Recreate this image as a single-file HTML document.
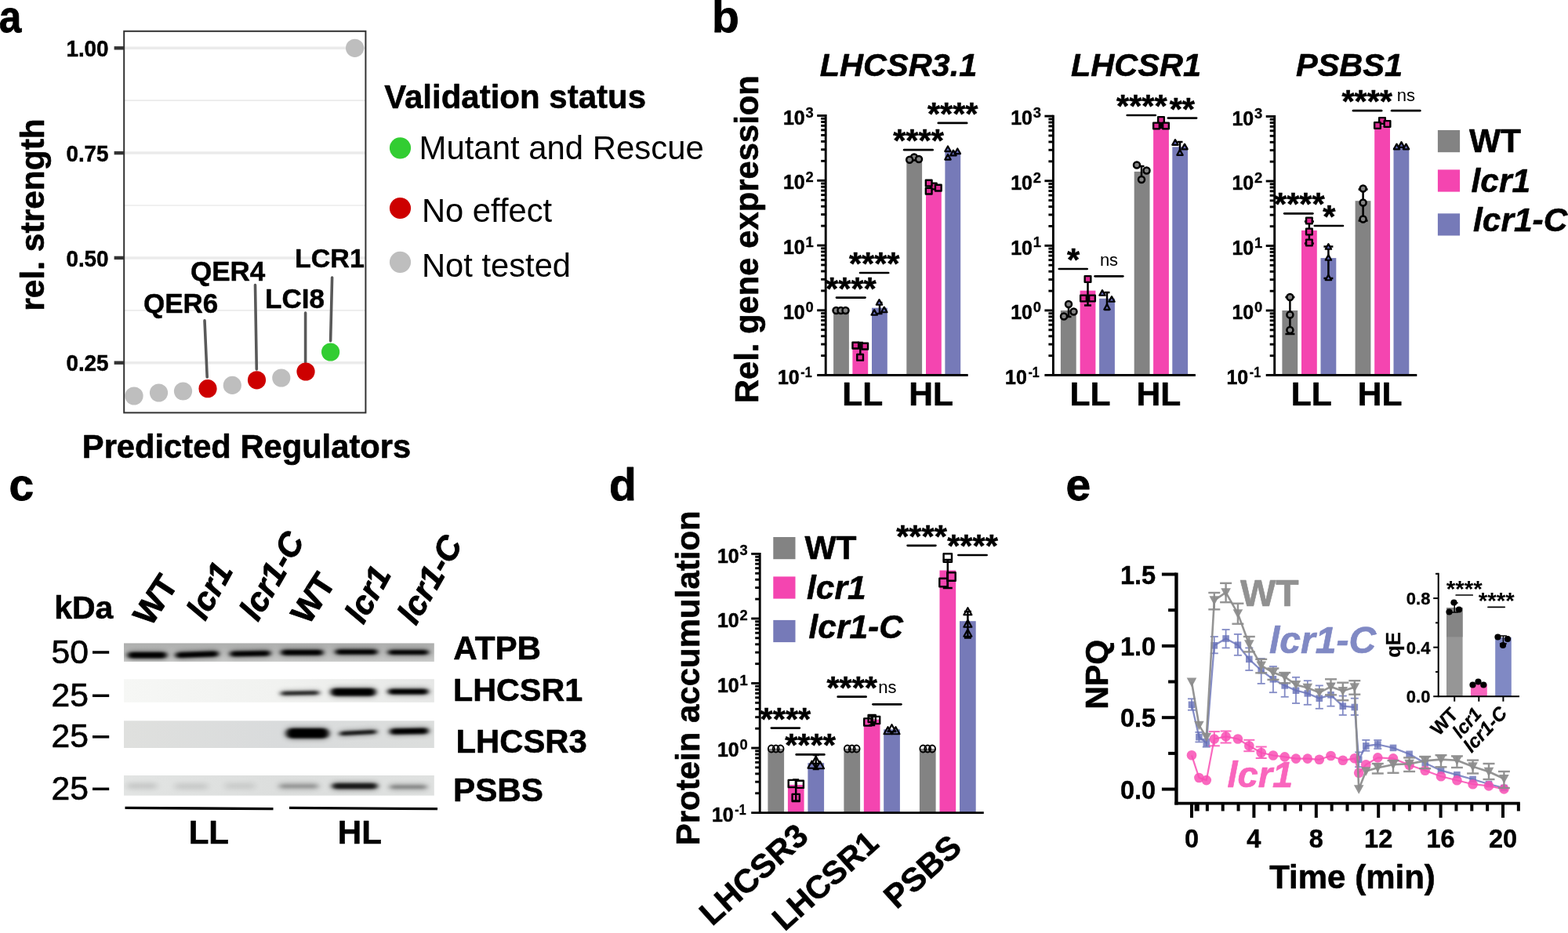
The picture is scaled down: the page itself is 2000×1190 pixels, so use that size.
<!DOCTYPE html>
<html lang="en">
<head>
<meta charset="utf-8">
<title>Figure</title>
<style>
html,body{margin:0;padding:0;background:#fff;}
body{width:2000px;height:1190px;overflow:hidden;}
svg{display:block;font-family:"Liberation Sans", sans-serif;}
</style>
</head>
<body>
<svg width="2000" height="1190" viewBox="0 0 2000 1190">
<defs><filter id="bl1" x="-30%" y="-150%" width="160%" height="400%"><feGaussianBlur stdDeviation="3.2 1.5"/></filter><filter id="bl2" x="-30%" y="-150%" width="160%" height="400%"><feGaussianBlur stdDeviation="2.4 1.8"/></filter><filter id="bl3" x="-30%" y="-200%" width="160%" height="500%"><feGaussianBlur stdDeviation="4 3"/></filter><linearGradient id="gA" x1="0" y1="0" x2="0" y2="1"><stop offset="0" stop-color="#adaead"/><stop offset="0.45" stop-color="#b8b9b8"/><stop offset="1" stop-color="#c8c9c8"/></linearGradient><linearGradient id="gB" x1="0" y1="0" x2="1" y2="0"><stop offset="0" stop-color="#f6f7f5"/><stop offset="0.5" stop-color="#f1f2f0"/><stop offset="1" stop-color="#e6e7e6"/></linearGradient><linearGradient id="gC" x1="0" y1="0" x2="1" y2="0"><stop offset="0" stop-color="#dfe0de"/><stop offset="0.5" stop-color="#d9dbdc"/><stop offset="1" stop-color="#dcdedd"/></linearGradient><linearGradient id="gD" x1="0" y1="0" x2="1" y2="0"><stop offset="0" stop-color="#e2e4e3"/><stop offset="0.5" stop-color="#dcdedd"/><stop offset="1" stop-color="#dfe1e0"/></linearGradient><clipPath id="cA"><rect x="158" y="820.4" width="395.8" height="23.5"/></clipPath><clipPath id="cB"><rect x="158" y="866.2" width="395.8" height="29.6"/></clipPath><clipPath id="cC"><rect x="158" y="919.3" width="395.8" height="34.7"/></clipPath><clipPath id="cD"><rect x="158" y="989" width="395.8" height="25.7"/></clipPath></defs>
<text x="-1.20" y="41.20" font-size="57" font-weight="bold" textLength="28.6" lengthAdjust="spacingAndGlyphs" stroke="#000" stroke-width="0.80" stroke-linejoin="round">a</text>
<line x1="158.20" y1="128.20" x2="466.40" y2="128.20" stroke="#ebebeb" stroke-width="1.7"/>
<line x1="158.20" y1="262.00" x2="466.40" y2="262.00" stroke="#ebebeb" stroke-width="1.7"/>
<line x1="158.20" y1="395.80" x2="466.40" y2="395.80" stroke="#ebebeb" stroke-width="1.7"/>
<line x1="158.20" y1="61.30" x2="466.40" y2="61.30" stroke="#ebebeb" stroke-width="3.5"/>
<line x1="145.60" y1="61.30" x2="158.20" y2="61.30" stroke="#333" stroke-width="4.4"/>
<line x1="158.20" y1="195.10" x2="466.40" y2="195.10" stroke="#ebebeb" stroke-width="3.5"/>
<line x1="145.60" y1="195.10" x2="158.20" y2="195.10" stroke="#333" stroke-width="4.4"/>
<line x1="158.20" y1="328.90" x2="466.40" y2="328.90" stroke="#ebebeb" stroke-width="3.5"/>
<line x1="145.60" y1="328.90" x2="158.20" y2="328.90" stroke="#333" stroke-width="4.4"/>
<line x1="158.20" y1="462.70" x2="466.40" y2="462.70" stroke="#ebebeb" stroke-width="3.5"/>
<line x1="145.60" y1="462.70" x2="158.20" y2="462.70" stroke="#333" stroke-width="4.4"/>
<text x="138.60" y="72.00" font-size="29.6" font-weight="bold" text-anchor="end" textLength="54.2" lengthAdjust="spacingAndGlyphs" stroke="#000" stroke-width="0.5">1.00</text>
<text x="138.60" y="205.80" font-size="29.6" font-weight="bold" text-anchor="end" textLength="54.2" lengthAdjust="spacingAndGlyphs" stroke="#000" stroke-width="0.5">0.75</text>
<text x="138.60" y="339.60" font-size="29.6" font-weight="bold" text-anchor="end" textLength="54.2" lengthAdjust="spacingAndGlyphs" stroke="#000" stroke-width="0.5">0.50</text>
<text x="138.60" y="473.40" font-size="29.6" font-weight="bold" text-anchor="end" textLength="54.2" lengthAdjust="spacingAndGlyphs" stroke="#000" stroke-width="0.5">0.25</text>
<text x="55.50" y="274.00" font-size="42.5" font-weight="bold" text-anchor="middle" transform="rotate(-90 55.50 274.00)" stroke="#000" stroke-width="0.59" stroke-linejoin="round">rel. strength</text>
<line x1="261.00" y1="408.80" x2="264.20" y2="481.00" stroke="#595959" stroke-width="3.6" stroke-linecap="round"/>
<line x1="325.50" y1="363.50" x2="327.30" y2="471.00" stroke="#595959" stroke-width="3.6" stroke-linecap="round"/>
<line x1="389.60" y1="399.00" x2="389.60" y2="462.00" stroke="#595959" stroke-width="3.6" stroke-linecap="round"/>
<line x1="423.60" y1="354.00" x2="421.60" y2="434.80" stroke="#595959" stroke-width="3.6" stroke-linecap="round"/>
<circle cx="171.00" cy="505.00" r="11.60" fill="#bebebe"/>
<circle cx="202.50" cy="501.00" r="11.60" fill="#bebebe"/>
<circle cx="233.50" cy="499.00" r="11.60" fill="#bebebe"/>
<circle cx="265.00" cy="495.70" r="11.60" fill="#cd0000"/>
<circle cx="296.30" cy="491.40" r="11.60" fill="#bebebe"/>
<circle cx="327.50" cy="484.80" r="11.60" fill="#cd0000"/>
<circle cx="358.80" cy="482.00" r="11.60" fill="#bebebe"/>
<circle cx="390.00" cy="474.00" r="11.60" fill="#cd0000"/>
<circle cx="421.60" cy="449.00" r="11.60" fill="#32cd32"/>
<circle cx="452.60" cy="61.30" r="11.60" fill="#bebebe"/>
<rect x="158.20" y="39.80" width="308.20" height="486.60" fill="none" stroke="#333" stroke-width="2.0"/>
<text x="183.00" y="399.20" font-size="35" font-weight="bold" stroke="#000" stroke-width="0.49" stroke-linejoin="round">QER6</text>
<text x="243.00" y="358.00" font-size="35" font-weight="bold" stroke="#000" stroke-width="0.49" stroke-linejoin="round">QER4</text>
<text x="338.00" y="392.80" font-size="35" font-weight="bold" stroke="#000" stroke-width="0.49" stroke-linejoin="round">LCI8</text>
<text x="376.00" y="340.80" font-size="34" font-weight="bold" stroke="#000" stroke-width="0.48" stroke-linejoin="round">LCR1</text>
<text x="314.50" y="583.90" font-size="41.7" font-weight="bold" text-anchor="middle" stroke="#000" stroke-width="0.58" stroke-linejoin="round">Predicted Regulators</text>
<text x="490.30" y="137.80" font-size="42" font-weight="bold" stroke="#000" stroke-width="0.59" stroke-linejoin="round">Validation status</text>
<circle cx="510.50" cy="188.80" r="13.60" fill="#32cd32"/>
<circle cx="510.50" cy="265.50" r="13.60" fill="#cd0000"/>
<circle cx="510.50" cy="334.30" r="13.60" fill="#bebebe"/>
<text x="534.50" y="202.60" font-size="41.9">Mutant and Rescue</text>
<text x="538.00" y="283.30" font-size="41.7">No effect</text>
<text x="538.00" y="352.80" font-size="41.7">Not tested</text>
<text x="908.00" y="40.50" font-size="57" font-weight="bold" stroke="#000" stroke-width="0.80" stroke-linejoin="round">b</text>
<text x="966.60" y="305.20" font-size="41.8" font-weight="bold" text-anchor="middle" transform="rotate(-90 966.60 305.20)" stroke="#000" stroke-width="0.59" stroke-linejoin="round">Rel. gene expression</text>
<text x="1146.00" y="97.20" font-size="41.5" font-weight="bold" font-style="italic" text-anchor="middle" stroke="#000" stroke-width="0.58" stroke-linejoin="round">LHCSR3.1</text>
<rect x="1063.10" y="396.00" width="19.80" height="82.55" fill="#838383"/>
<rect x="1087.40" y="441.30" width="19.80" height="37.25" fill="#f445b0"/>
<rect x="1112.00" y="392.70" width="19.80" height="85.85" fill="#767ab8"/>
<rect x="1156.30" y="203.50" width="19.80" height="275.05" fill="#838383"/>
<rect x="1181.00" y="240.40" width="19.80" height="238.15" fill="#f445b0"/>
<rect x="1205.40" y="193.70" width="19.80" height="284.85" fill="#767ab8"/>
<line x1="1053.20" y1="146.05" x2="1053.20" y2="480.00" stroke="#000" stroke-width="2.9"/>
<line x1="1042.20" y1="478.55" x2="1234.70" y2="478.55" stroke="#000" stroke-width="2.9"/>
<line x1="1042.20" y1="147.50" x2="1053.20" y2="147.50" stroke="#000" stroke-width="2.9"/>
<text x="1026.67" y="158.70" font-size="24.9" font-weight="bold" text-anchor="end" stroke="#000" stroke-width="0.5">10</text>
<text x="1027.47" y="149.50" font-size="18.4" font-weight="bold" stroke="#000" stroke-width="0.3">3</text>
<line x1="1047.20" y1="205.35" x2="1053.20" y2="205.35" stroke="#000" stroke-width="2.9"/>
<line x1="1047.20" y1="190.77" x2="1053.20" y2="190.77" stroke="#000" stroke-width="2.9"/>
<line x1="1047.20" y1="180.43" x2="1053.20" y2="180.43" stroke="#000" stroke-width="2.9"/>
<line x1="1047.20" y1="172.41" x2="1053.20" y2="172.41" stroke="#000" stroke-width="2.9"/>
<line x1="1047.20" y1="165.86" x2="1053.20" y2="165.86" stroke="#000" stroke-width="2.9"/>
<line x1="1047.20" y1="160.32" x2="1053.20" y2="160.32" stroke="#000" stroke-width="2.9"/>
<line x1="1047.20" y1="155.52" x2="1053.20" y2="155.52" stroke="#000" stroke-width="2.9"/>
<line x1="1047.20" y1="151.29" x2="1053.20" y2="151.29" stroke="#000" stroke-width="2.9"/>
<line x1="1042.20" y1="230.26" x2="1053.20" y2="230.26" stroke="#000" stroke-width="2.9"/>
<text x="1026.67" y="241.46" font-size="24.9" font-weight="bold" text-anchor="end" stroke="#000" stroke-width="0.5">10</text>
<text x="1027.47" y="232.26" font-size="18.4" font-weight="bold" stroke="#000" stroke-width="0.3">2</text>
<line x1="1047.20" y1="288.11" x2="1053.20" y2="288.11" stroke="#000" stroke-width="2.9"/>
<line x1="1047.20" y1="273.54" x2="1053.20" y2="273.54" stroke="#000" stroke-width="2.9"/>
<line x1="1047.20" y1="263.20" x2="1053.20" y2="263.20" stroke="#000" stroke-width="2.9"/>
<line x1="1047.20" y1="255.18" x2="1053.20" y2="255.18" stroke="#000" stroke-width="2.9"/>
<line x1="1047.20" y1="248.62" x2="1053.20" y2="248.62" stroke="#000" stroke-width="2.9"/>
<line x1="1047.20" y1="243.08" x2="1053.20" y2="243.08" stroke="#000" stroke-width="2.9"/>
<line x1="1047.20" y1="238.28" x2="1053.20" y2="238.28" stroke="#000" stroke-width="2.9"/>
<line x1="1047.20" y1="234.05" x2="1053.20" y2="234.05" stroke="#000" stroke-width="2.9"/>
<line x1="1042.20" y1="313.02" x2="1053.20" y2="313.02" stroke="#000" stroke-width="2.9"/>
<text x="1026.67" y="324.22" font-size="24.9" font-weight="bold" text-anchor="end" stroke="#000" stroke-width="0.5">10</text>
<text x="1027.47" y="315.02" font-size="18.4" font-weight="bold" stroke="#000" stroke-width="0.3">1</text>
<line x1="1047.20" y1="370.87" x2="1053.20" y2="370.87" stroke="#000" stroke-width="2.9"/>
<line x1="1047.20" y1="356.30" x2="1053.20" y2="356.30" stroke="#000" stroke-width="2.9"/>
<line x1="1047.20" y1="345.96" x2="1053.20" y2="345.96" stroke="#000" stroke-width="2.9"/>
<line x1="1047.20" y1="337.94" x2="1053.20" y2="337.94" stroke="#000" stroke-width="2.9"/>
<line x1="1047.20" y1="331.39" x2="1053.20" y2="331.39" stroke="#000" stroke-width="2.9"/>
<line x1="1047.20" y1="325.85" x2="1053.20" y2="325.85" stroke="#000" stroke-width="2.9"/>
<line x1="1047.20" y1="321.05" x2="1053.20" y2="321.05" stroke="#000" stroke-width="2.9"/>
<line x1="1047.20" y1="316.81" x2="1053.20" y2="316.81" stroke="#000" stroke-width="2.9"/>
<line x1="1042.20" y1="395.79" x2="1053.20" y2="395.79" stroke="#000" stroke-width="2.9"/>
<text x="1026.67" y="406.99" font-size="24.9" font-weight="bold" text-anchor="end" stroke="#000" stroke-width="0.5">10</text>
<text x="1027.47" y="397.79" font-size="18.4" font-weight="bold" stroke="#000" stroke-width="0.3">0</text>
<line x1="1047.20" y1="453.64" x2="1053.20" y2="453.64" stroke="#000" stroke-width="2.9"/>
<line x1="1047.20" y1="439.06" x2="1053.20" y2="439.06" stroke="#000" stroke-width="2.9"/>
<line x1="1047.20" y1="428.72" x2="1053.20" y2="428.72" stroke="#000" stroke-width="2.9"/>
<line x1="1047.20" y1="420.70" x2="1053.20" y2="420.70" stroke="#000" stroke-width="2.9"/>
<line x1="1047.20" y1="414.15" x2="1053.20" y2="414.15" stroke="#000" stroke-width="2.9"/>
<line x1="1047.20" y1="408.61" x2="1053.20" y2="408.61" stroke="#000" stroke-width="2.9"/>
<line x1="1047.20" y1="403.81" x2="1053.20" y2="403.81" stroke="#000" stroke-width="2.9"/>
<line x1="1047.20" y1="399.57" x2="1053.20" y2="399.57" stroke="#000" stroke-width="2.9"/>
<text x="1019.60" y="489.75" font-size="24.9" font-weight="bold" text-anchor="end" stroke="#000" stroke-width="0.5">10</text>
<text x="1021.30" y="480.55" font-size="18.4" font-weight="bold" stroke="#000" stroke-width="0.3" textLength="14.3" lengthAdjust="spacingAndGlyphs">-1</text>
<line x1="1097.30" y1="437.00" x2="1097.30" y2="455.00" stroke="#000" stroke-width="2.5"/>
<line x1="1093.80" y1="437.00" x2="1100.80" y2="437.00" stroke="#000" stroke-width="2.5"/>
<line x1="1093.80" y1="455.00" x2="1100.80" y2="455.00" stroke="#000" stroke-width="2.5"/>
<line x1="1122.00" y1="386.00" x2="1122.00" y2="400.00" stroke="#000" stroke-width="2.5"/>
<line x1="1118.50" y1="386.00" x2="1125.50" y2="386.00" stroke="#000" stroke-width="2.5"/>
<line x1="1118.50" y1="400.00" x2="1125.50" y2="400.00" stroke="#000" stroke-width="2.5"/>
<circle cx="1066.50" cy="396.00" r="4.00" fill="#838383" stroke="#000" stroke-width="2.5"/>
<circle cx="1072.50" cy="396.00" r="4.00" fill="#838383" stroke="#000" stroke-width="2.5"/>
<circle cx="1078.50" cy="396.00" r="4.00" fill="#838383" stroke="#000" stroke-width="2.5"/>
<rect x="1087.45" y="436.75" width="7.70" height="7.70" fill="#de2a94" stroke="#000" stroke-width="2.4" stroke-linejoin="round"/>
<rect x="1099.35" y="437.75" width="7.70" height="7.70" fill="#de2a94" stroke="#000" stroke-width="2.4" stroke-linejoin="round"/>
<rect x="1093.25" y="451.95" width="7.70" height="7.70" fill="#de2a94" stroke="#000" stroke-width="2.4" stroke-linejoin="round"/>
<polygon points="1121.50,382.12 1125.20,388.77 1117.80,388.77" fill="#6368b4" stroke="#000" stroke-width="2.2" stroke-linejoin="round"/>
<polygon points="1115.20,395.12 1118.90,401.77 1111.50,401.77" fill="#6368b4" stroke="#000" stroke-width="2.2" stroke-linejoin="round"/>
<polygon points="1127.80,391.62 1131.50,398.27 1124.10,398.27" fill="#6368b4" stroke="#000" stroke-width="2.2" stroke-linejoin="round"/>
<circle cx="1166.00" cy="200.50" r="4.00" fill="#838383" stroke="#000" stroke-width="2.5"/>
<circle cx="1160.20" cy="203.80" r="4.00" fill="#838383" stroke="#000" stroke-width="2.5"/>
<circle cx="1172.00" cy="203.00" r="4.00" fill="#838383" stroke="#000" stroke-width="2.5"/>
<rect x="1186.95" y="233.65" width="7.70" height="7.70" fill="#de2a94" stroke="#000" stroke-width="2.4" stroke-linejoin="round"/>
<rect x="1180.85" y="229.75" width="7.70" height="7.70" fill="#de2a94" stroke="#000" stroke-width="2.4" stroke-linejoin="round"/>
<rect x="1180.85" y="239.85" width="7.70" height="7.70" fill="#de2a94" stroke="#000" stroke-width="2.4" stroke-linejoin="round"/>
<rect x="1192.95" y="235.75" width="7.70" height="7.70" fill="#de2a94" stroke="#000" stroke-width="2.4" stroke-linejoin="round"/>
<polygon points="1216.00,191.62 1219.70,198.28 1212.30,198.28" fill="#6368b4" stroke="#000" stroke-width="2.2" stroke-linejoin="round"/>
<polygon points="1209.00,186.42 1212.70,193.08 1205.30,193.08" fill="#6368b4" stroke="#000" stroke-width="2.2" stroke-linejoin="round"/>
<polygon points="1221.30,189.42 1225.00,196.08 1217.60,196.08" fill="#6368b4" stroke="#000" stroke-width="2.2" stroke-linejoin="round"/>
<polygon points="1209.00,196.92 1212.70,203.58 1205.30,203.58" fill="#6368b4" stroke="#000" stroke-width="2.2" stroke-linejoin="round"/>
<text x="1100.20" y="517.00" font-size="42.5" font-weight="bold" text-anchor="middle" stroke="#000" stroke-width="0.59" stroke-linejoin="round">LL</text>
<text x="1187.70" y="517.00" font-size="42.5" font-weight="bold" text-anchor="middle" stroke="#000" stroke-width="0.59" stroke-linejoin="round">HL</text>
<line x1="1067.01" y1="379.60" x2="1103.49" y2="379.60" stroke="#000" stroke-width="2.7" stroke-linecap="round"/>
<text x="1085.40" y="381.50" font-size="41.5" font-weight="bold" text-anchor="middle" stroke="#000" stroke-width="0.58" stroke-linejoin="round">****</text>
<line x1="1097.01" y1="348.00" x2="1133.19" y2="348.00" stroke="#000" stroke-width="2.7" stroke-linecap="round"/>
<text x="1115.20" y="349.90" font-size="41.5" font-weight="bold" text-anchor="middle" stroke="#000" stroke-width="0.58" stroke-linejoin="round">****</text>
<line x1="1153.21" y1="191.20" x2="1189.59" y2="191.20" stroke="#000" stroke-width="2.7" stroke-linecap="round"/>
<text x="1171.50" y="193.10" font-size="41.5" font-weight="bold" text-anchor="middle" stroke="#000" stroke-width="0.58" stroke-linejoin="round">****</text>
<line x1="1196.81" y1="156.90" x2="1233.19" y2="156.90" stroke="#000" stroke-width="2.7" stroke-linecap="round"/>
<text x="1215.20" y="158.80" font-size="41.5" font-weight="bold" text-anchor="middle" stroke="#000" stroke-width="0.58" stroke-linejoin="round">****</text>
<text x="1449.00" y="97.20" font-size="41.5" font-weight="bold" font-style="italic" text-anchor="middle" stroke="#000" stroke-width="0.58" stroke-linejoin="round">LHCSR1</text>
<rect x="1352.90" y="396.00" width="19.80" height="82.55" fill="#838383"/>
<rect x="1377.60" y="370.70" width="19.80" height="107.85" fill="#f445b0"/>
<rect x="1402.10" y="380.80" width="19.80" height="97.75" fill="#767ab8"/>
<rect x="1446.70" y="218.90" width="19.80" height="259.65" fill="#838383"/>
<rect x="1471.10" y="160.90" width="19.80" height="317.65" fill="#f445b0"/>
<rect x="1495.30" y="187.40" width="19.80" height="291.15" fill="#767ab8"/>
<line x1="1343.40" y1="146.65" x2="1343.40" y2="480.00" stroke="#000" stroke-width="2.9"/>
<line x1="1332.40" y1="478.55" x2="1524.90" y2="478.55" stroke="#000" stroke-width="2.9"/>
<line x1="1332.40" y1="148.10" x2="1343.40" y2="148.10" stroke="#000" stroke-width="2.9"/>
<text x="1316.87" y="159.30" font-size="24.9" font-weight="bold" text-anchor="end" stroke="#000" stroke-width="0.5">10</text>
<text x="1317.67" y="150.10" font-size="18.4" font-weight="bold" stroke="#000" stroke-width="0.3">3</text>
<line x1="1337.40" y1="205.84" x2="1343.40" y2="205.84" stroke="#000" stroke-width="2.9"/>
<line x1="1337.40" y1="191.30" x2="1343.40" y2="191.30" stroke="#000" stroke-width="2.9"/>
<line x1="1337.40" y1="180.97" x2="1343.40" y2="180.97" stroke="#000" stroke-width="2.9"/>
<line x1="1337.40" y1="172.97" x2="1343.40" y2="172.97" stroke="#000" stroke-width="2.9"/>
<line x1="1337.40" y1="166.43" x2="1343.40" y2="166.43" stroke="#000" stroke-width="2.9"/>
<line x1="1337.40" y1="160.90" x2="1343.40" y2="160.90" stroke="#000" stroke-width="2.9"/>
<line x1="1337.40" y1="156.11" x2="1343.40" y2="156.11" stroke="#000" stroke-width="2.9"/>
<line x1="1337.40" y1="151.88" x2="1343.40" y2="151.88" stroke="#000" stroke-width="2.9"/>
<line x1="1332.40" y1="230.71" x2="1343.40" y2="230.71" stroke="#000" stroke-width="2.9"/>
<text x="1316.87" y="241.91" font-size="24.9" font-weight="bold" text-anchor="end" stroke="#000" stroke-width="0.5">10</text>
<text x="1317.67" y="232.71" font-size="18.4" font-weight="bold" stroke="#000" stroke-width="0.3">2</text>
<line x1="1337.40" y1="288.46" x2="1343.40" y2="288.46" stroke="#000" stroke-width="2.9"/>
<line x1="1337.40" y1="273.91" x2="1343.40" y2="273.91" stroke="#000" stroke-width="2.9"/>
<line x1="1337.40" y1="263.59" x2="1343.40" y2="263.59" stroke="#000" stroke-width="2.9"/>
<line x1="1337.40" y1="255.58" x2="1343.40" y2="255.58" stroke="#000" stroke-width="2.9"/>
<line x1="1337.40" y1="249.04" x2="1343.40" y2="249.04" stroke="#000" stroke-width="2.9"/>
<line x1="1337.40" y1="243.51" x2="1343.40" y2="243.51" stroke="#000" stroke-width="2.9"/>
<line x1="1337.40" y1="238.72" x2="1343.40" y2="238.72" stroke="#000" stroke-width="2.9"/>
<line x1="1337.40" y1="234.49" x2="1343.40" y2="234.49" stroke="#000" stroke-width="2.9"/>
<line x1="1332.40" y1="313.33" x2="1343.40" y2="313.33" stroke="#000" stroke-width="2.9"/>
<text x="1316.87" y="324.53" font-size="24.9" font-weight="bold" text-anchor="end" stroke="#000" stroke-width="0.5">10</text>
<text x="1317.67" y="315.33" font-size="18.4" font-weight="bold" stroke="#000" stroke-width="0.3">1</text>
<line x1="1337.40" y1="371.07" x2="1343.40" y2="371.07" stroke="#000" stroke-width="2.9"/>
<line x1="1337.40" y1="356.52" x2="1343.40" y2="356.52" stroke="#000" stroke-width="2.9"/>
<line x1="1337.40" y1="346.20" x2="1343.40" y2="346.20" stroke="#000" stroke-width="2.9"/>
<line x1="1337.40" y1="338.19" x2="1343.40" y2="338.19" stroke="#000" stroke-width="2.9"/>
<line x1="1337.40" y1="331.65" x2="1343.40" y2="331.65" stroke="#000" stroke-width="2.9"/>
<line x1="1337.40" y1="326.12" x2="1343.40" y2="326.12" stroke="#000" stroke-width="2.9"/>
<line x1="1337.40" y1="321.33" x2="1343.40" y2="321.33" stroke="#000" stroke-width="2.9"/>
<line x1="1337.40" y1="317.11" x2="1343.40" y2="317.11" stroke="#000" stroke-width="2.9"/>
<line x1="1332.40" y1="395.94" x2="1343.40" y2="395.94" stroke="#000" stroke-width="2.9"/>
<text x="1316.87" y="407.14" font-size="24.9" font-weight="bold" text-anchor="end" stroke="#000" stroke-width="0.5">10</text>
<text x="1317.67" y="397.94" font-size="18.4" font-weight="bold" stroke="#000" stroke-width="0.3">0</text>
<line x1="1337.40" y1="453.68" x2="1343.40" y2="453.68" stroke="#000" stroke-width="2.9"/>
<line x1="1337.40" y1="439.13" x2="1343.40" y2="439.13" stroke="#000" stroke-width="2.9"/>
<line x1="1337.40" y1="428.81" x2="1343.40" y2="428.81" stroke="#000" stroke-width="2.9"/>
<line x1="1337.40" y1="420.81" x2="1343.40" y2="420.81" stroke="#000" stroke-width="2.9"/>
<line x1="1337.40" y1="414.26" x2="1343.40" y2="414.26" stroke="#000" stroke-width="2.9"/>
<line x1="1337.40" y1="408.73" x2="1343.40" y2="408.73" stroke="#000" stroke-width="2.9"/>
<line x1="1337.40" y1="403.94" x2="1343.40" y2="403.94" stroke="#000" stroke-width="2.9"/>
<line x1="1337.40" y1="399.72" x2="1343.40" y2="399.72" stroke="#000" stroke-width="2.9"/>
<text x="1309.80" y="489.75" font-size="24.9" font-weight="bold" text-anchor="end" stroke="#000" stroke-width="0.5">10</text>
<text x="1311.50" y="480.55" font-size="18.4" font-weight="bold" stroke="#000" stroke-width="0.3" textLength="14.3" lengthAdjust="spacingAndGlyphs">-1</text>
<line x1="1363.00" y1="388.00" x2="1363.00" y2="404.00" stroke="#000" stroke-width="2.5"/>
<line x1="1359.50" y1="388.00" x2="1366.50" y2="388.00" stroke="#000" stroke-width="2.5"/>
<line x1="1359.50" y1="404.00" x2="1366.50" y2="404.00" stroke="#000" stroke-width="2.5"/>
<line x1="1387.50" y1="356.00" x2="1387.50" y2="389.50" stroke="#000" stroke-width="2.5"/>
<line x1="1383.00" y1="356.00" x2="1392.00" y2="356.00" stroke="#000" stroke-width="2.5"/>
<line x1="1383.00" y1="389.50" x2="1392.00" y2="389.50" stroke="#000" stroke-width="2.5"/>
<line x1="1412.00" y1="373.00" x2="1412.00" y2="395.00" stroke="#000" stroke-width="2.5"/>
<line x1="1408.50" y1="373.00" x2="1415.50" y2="373.00" stroke="#000" stroke-width="2.5"/>
<line x1="1408.50" y1="395.00" x2="1415.50" y2="395.00" stroke="#000" stroke-width="2.5"/>
<circle cx="1363.00" cy="388.00" r="4.00" fill="#838383" stroke="#000" stroke-width="2.5"/>
<circle cx="1357.00" cy="403.50" r="4.00" fill="#838383" stroke="#000" stroke-width="2.5"/>
<circle cx="1369.50" cy="397.50" r="4.00" fill="#838383" stroke="#000" stroke-width="2.5"/>
<rect x="1383.65" y="352.15" width="7.70" height="7.70" fill="#de2a94" stroke="#000" stroke-width="2.4" stroke-linejoin="round"/>
<rect x="1378.15" y="376.65" width="7.70" height="7.70" fill="#de2a94" stroke="#000" stroke-width="2.4" stroke-linejoin="round"/>
<rect x="1389.15" y="376.65" width="7.70" height="7.70" fill="#de2a94" stroke="#000" stroke-width="2.4" stroke-linejoin="round"/>
<polygon points="1406.00,370.12 1409.70,376.77 1402.30,376.77" fill="#6368b4" stroke="#000" stroke-width="2.2" stroke-linejoin="round"/>
<polygon points="1418.00,378.12 1421.70,384.77 1414.30,384.77" fill="#6368b4" stroke="#000" stroke-width="2.2" stroke-linejoin="round"/>
<polygon points="1412.00,388.12 1415.70,394.77 1408.30,394.77" fill="#6368b4" stroke="#000" stroke-width="2.2" stroke-linejoin="round"/>
<line x1="1456.00" y1="212.00" x2="1456.00" y2="228.00" stroke="#000" stroke-width="2.5"/>
<line x1="1452.50" y1="212.00" x2="1459.50" y2="212.00" stroke="#000" stroke-width="2.5"/>
<line x1="1452.50" y1="228.00" x2="1459.50" y2="228.00" stroke="#000" stroke-width="2.5"/>
<line x1="1481.00" y1="153.00" x2="1481.00" y2="163.00" stroke="#000" stroke-width="2.5"/>
<line x1="1477.50" y1="153.00" x2="1484.50" y2="153.00" stroke="#000" stroke-width="2.5"/>
<line x1="1477.50" y1="163.00" x2="1484.50" y2="163.00" stroke="#000" stroke-width="2.5"/>
<line x1="1505.00" y1="181.00" x2="1505.00" y2="197.00" stroke="#000" stroke-width="2.5"/>
<line x1="1501.50" y1="181.00" x2="1508.50" y2="181.00" stroke="#000" stroke-width="2.5"/>
<line x1="1501.50" y1="197.00" x2="1508.50" y2="197.00" stroke="#000" stroke-width="2.5"/>
<circle cx="1450.00" cy="210.50" r="4.00" fill="#838383" stroke="#000" stroke-width="2.5"/>
<circle cx="1462.50" cy="217.50" r="4.00" fill="#838383" stroke="#000" stroke-width="2.5"/>
<circle cx="1456.00" cy="229.00" r="4.00" fill="#838383" stroke="#000" stroke-width="2.5"/>
<rect x="1477.15" y="149.15" width="7.70" height="7.70" fill="#de2a94" stroke="#000" stroke-width="2.4" stroke-linejoin="round"/>
<rect x="1471.15" y="156.65" width="7.70" height="7.70" fill="#de2a94" stroke="#000" stroke-width="2.4" stroke-linejoin="round"/>
<rect x="1483.15" y="156.65" width="7.70" height="7.70" fill="#de2a94" stroke="#000" stroke-width="2.4" stroke-linejoin="round"/>
<polygon points="1499.00,178.12 1502.70,184.78 1495.30,184.78" fill="#6368b4" stroke="#000" stroke-width="2.2" stroke-linejoin="round"/>
<polygon points="1511.00,183.62 1514.70,190.28 1507.30,190.28" fill="#6368b4" stroke="#000" stroke-width="2.2" stroke-linejoin="round"/>
<polygon points="1505.00,191.12 1508.70,197.78 1501.30,197.78" fill="#6368b4" stroke="#000" stroke-width="2.2" stroke-linejoin="round"/>
<text x="1390.40" y="517.00" font-size="42.5" font-weight="bold" text-anchor="middle" stroke="#000" stroke-width="0.59" stroke-linejoin="round">LL</text>
<text x="1477.90" y="517.00" font-size="42.5" font-weight="bold" text-anchor="middle" stroke="#000" stroke-width="0.59" stroke-linejoin="round">HL</text>
<line x1="1350.81" y1="343.00" x2="1386.69" y2="343.00" stroke="#000" stroke-width="2.7" stroke-linecap="round"/>
<text x="1369.00" y="344.90" font-size="41.5" font-weight="bold" text-anchor="middle" stroke="#000" stroke-width="0.58" stroke-linejoin="round">*</text>
<line x1="1396.62" y1="352.30" x2="1432.29" y2="352.30" stroke="#000" stroke-width="2.7" stroke-linecap="round"/>
<text x="1414.50" y="339.20" font-size="22" text-anchor="middle">ns</text>
<line x1="1437.71" y1="147.00" x2="1473.79" y2="147.00" stroke="#000" stroke-width="2.7" stroke-linecap="round"/>
<text x="1456.30" y="148.90" font-size="41.5" font-weight="bold" text-anchor="middle" stroke="#000" stroke-width="0.58" stroke-linejoin="round">****</text>
<line x1="1489.91" y1="150.60" x2="1526.09" y2="150.60" stroke="#000" stroke-width="2.7" stroke-linecap="round"/>
<text x="1507.80" y="152.50" font-size="41.5" font-weight="bold" text-anchor="middle" stroke="#000" stroke-width="0.58" stroke-linejoin="round">**</text>
<text x="1721.00" y="97.20" font-size="41.5" font-weight="bold" font-style="italic" text-anchor="middle" stroke="#000" stroke-width="0.58" stroke-linejoin="round">PSBS1</text>
<rect x="1635.40" y="396.00" width="19.80" height="82.55" fill="#838383"/>
<rect x="1660.00" y="293.90" width="19.80" height="184.65" fill="#f445b0"/>
<rect x="1684.50" y="329.10" width="19.80" height="149.45" fill="#767ab8"/>
<rect x="1728.60" y="256.20" width="19.80" height="222.35" fill="#838383"/>
<rect x="1753.20" y="159.60" width="19.80" height="318.95" fill="#f445b0"/>
<rect x="1777.50" y="188.10" width="19.80" height="290.45" fill="#767ab8"/>
<line x1="1625.70" y1="147.05" x2="1625.70" y2="480.00" stroke="#000" stroke-width="2.9"/>
<line x1="1614.70" y1="478.55" x2="1807.30" y2="478.55" stroke="#000" stroke-width="2.9"/>
<line x1="1614.70" y1="148.50" x2="1625.70" y2="148.50" stroke="#000" stroke-width="2.9"/>
<text x="1599.17" y="159.70" font-size="24.9" font-weight="bold" text-anchor="end" stroke="#000" stroke-width="0.5">10</text>
<text x="1599.97" y="150.50" font-size="18.4" font-weight="bold" stroke="#000" stroke-width="0.3">3</text>
<line x1="1619.70" y1="206.17" x2="1625.70" y2="206.17" stroke="#000" stroke-width="2.9"/>
<line x1="1619.70" y1="191.64" x2="1625.70" y2="191.64" stroke="#000" stroke-width="2.9"/>
<line x1="1619.70" y1="181.34" x2="1625.70" y2="181.34" stroke="#000" stroke-width="2.9"/>
<line x1="1619.70" y1="173.34" x2="1625.70" y2="173.34" stroke="#000" stroke-width="2.9"/>
<line x1="1619.70" y1="166.81" x2="1625.70" y2="166.81" stroke="#000" stroke-width="2.9"/>
<line x1="1619.70" y1="161.28" x2="1625.70" y2="161.28" stroke="#000" stroke-width="2.9"/>
<line x1="1619.70" y1="156.50" x2="1625.70" y2="156.50" stroke="#000" stroke-width="2.9"/>
<line x1="1619.70" y1="152.28" x2="1625.70" y2="152.28" stroke="#000" stroke-width="2.9"/>
<line x1="1614.70" y1="231.01" x2="1625.70" y2="231.01" stroke="#000" stroke-width="2.9"/>
<text x="1599.17" y="242.21" font-size="24.9" font-weight="bold" text-anchor="end" stroke="#000" stroke-width="0.5">10</text>
<text x="1599.97" y="233.01" font-size="18.4" font-weight="bold" stroke="#000" stroke-width="0.3">2</text>
<line x1="1619.70" y1="288.69" x2="1625.70" y2="288.69" stroke="#000" stroke-width="2.9"/>
<line x1="1619.70" y1="274.16" x2="1625.70" y2="274.16" stroke="#000" stroke-width="2.9"/>
<line x1="1619.70" y1="263.85" x2="1625.70" y2="263.85" stroke="#000" stroke-width="2.9"/>
<line x1="1619.70" y1="255.85" x2="1625.70" y2="255.85" stroke="#000" stroke-width="2.9"/>
<line x1="1619.70" y1="249.32" x2="1625.70" y2="249.32" stroke="#000" stroke-width="2.9"/>
<line x1="1619.70" y1="243.79" x2="1625.70" y2="243.79" stroke="#000" stroke-width="2.9"/>
<line x1="1619.70" y1="239.01" x2="1625.70" y2="239.01" stroke="#000" stroke-width="2.9"/>
<line x1="1619.70" y1="234.79" x2="1625.70" y2="234.79" stroke="#000" stroke-width="2.9"/>
<line x1="1614.70" y1="313.52" x2="1625.70" y2="313.52" stroke="#000" stroke-width="2.9"/>
<text x="1599.17" y="324.72" font-size="24.9" font-weight="bold" text-anchor="end" stroke="#000" stroke-width="0.5">10</text>
<text x="1599.97" y="315.52" font-size="18.4" font-weight="bold" stroke="#000" stroke-width="0.3">1</text>
<line x1="1619.70" y1="371.20" x2="1625.70" y2="371.20" stroke="#000" stroke-width="2.9"/>
<line x1="1619.70" y1="356.67" x2="1625.70" y2="356.67" stroke="#000" stroke-width="2.9"/>
<line x1="1619.70" y1="346.36" x2="1625.70" y2="346.36" stroke="#000" stroke-width="2.9"/>
<line x1="1619.70" y1="338.36" x2="1625.70" y2="338.36" stroke="#000" stroke-width="2.9"/>
<line x1="1619.70" y1="331.83" x2="1625.70" y2="331.83" stroke="#000" stroke-width="2.9"/>
<line x1="1619.70" y1="326.31" x2="1625.70" y2="326.31" stroke="#000" stroke-width="2.9"/>
<line x1="1619.70" y1="321.52" x2="1625.70" y2="321.52" stroke="#000" stroke-width="2.9"/>
<line x1="1619.70" y1="317.30" x2="1625.70" y2="317.30" stroke="#000" stroke-width="2.9"/>
<line x1="1614.70" y1="396.04" x2="1625.70" y2="396.04" stroke="#000" stroke-width="2.9"/>
<text x="1599.17" y="407.24" font-size="24.9" font-weight="bold" text-anchor="end" stroke="#000" stroke-width="0.5">10</text>
<text x="1599.97" y="398.04" font-size="18.4" font-weight="bold" stroke="#000" stroke-width="0.3">0</text>
<line x1="1619.70" y1="453.71" x2="1625.70" y2="453.71" stroke="#000" stroke-width="2.9"/>
<line x1="1619.70" y1="439.18" x2="1625.70" y2="439.18" stroke="#000" stroke-width="2.9"/>
<line x1="1619.70" y1="428.87" x2="1625.70" y2="428.87" stroke="#000" stroke-width="2.9"/>
<line x1="1619.70" y1="420.88" x2="1625.70" y2="420.88" stroke="#000" stroke-width="2.9"/>
<line x1="1619.70" y1="414.34" x2="1625.70" y2="414.34" stroke="#000" stroke-width="2.9"/>
<line x1="1619.70" y1="408.82" x2="1625.70" y2="408.82" stroke="#000" stroke-width="2.9"/>
<line x1="1619.70" y1="404.03" x2="1625.70" y2="404.03" stroke="#000" stroke-width="2.9"/>
<line x1="1619.70" y1="399.81" x2="1625.70" y2="399.81" stroke="#000" stroke-width="2.9"/>
<text x="1592.10" y="489.75" font-size="24.9" font-weight="bold" text-anchor="end" stroke="#000" stroke-width="0.5">10</text>
<text x="1593.80" y="480.55" font-size="18.4" font-weight="bold" stroke="#000" stroke-width="0.3" textLength="14.3" lengthAdjust="spacingAndGlyphs">-1</text>
<line x1="1645.40" y1="379.00" x2="1645.40" y2="426.00" stroke="#000" stroke-width="2.5"/>
<line x1="1639.40" y1="379.00" x2="1651.40" y2="379.00" stroke="#000" stroke-width="2.5"/>
<line x1="1639.40" y1="426.00" x2="1651.40" y2="426.00" stroke="#000" stroke-width="2.5"/>
<line x1="1669.90" y1="282.50" x2="1669.90" y2="310.50" stroke="#000" stroke-width="2.5"/>
<line x1="1663.90" y1="282.50" x2="1675.90" y2="282.50" stroke="#000" stroke-width="2.5"/>
<line x1="1663.90" y1="310.50" x2="1675.90" y2="310.50" stroke="#000" stroke-width="2.5"/>
<line x1="1694.40" y1="314.50" x2="1694.40" y2="355.00" stroke="#000" stroke-width="2.5"/>
<line x1="1688.40" y1="314.50" x2="1700.40" y2="314.50" stroke="#000" stroke-width="2.5"/>
<line x1="1688.40" y1="355.00" x2="1700.40" y2="355.00" stroke="#000" stroke-width="2.5"/>
<circle cx="1645.40" cy="379.00" r="4.00" fill="#838383" stroke="#000" stroke-width="2.5"/>
<circle cx="1645.40" cy="401.50" r="4.00" fill="#838383" stroke="#000" stroke-width="2.5"/>
<circle cx="1645.40" cy="421.00" r="4.00" fill="#838383" stroke="#000" stroke-width="2.5"/>
<rect x="1666.05" y="277.65" width="7.70" height="7.70" fill="#de2a94" stroke="#000" stroke-width="2.4" stroke-linejoin="round"/>
<rect x="1666.05" y="291.65" width="7.70" height="7.70" fill="#de2a94" stroke="#000" stroke-width="2.4" stroke-linejoin="round"/>
<rect x="1666.05" y="305.65" width="7.70" height="7.70" fill="#de2a94" stroke="#000" stroke-width="2.4" stroke-linejoin="round"/>
<polygon points="1694.40,311.12 1698.10,317.77 1690.70,317.77" fill="#6368b4" stroke="#000" stroke-width="2.2" stroke-linejoin="round"/>
<polygon points="1694.40,325.12 1698.10,331.77 1690.70,331.77" fill="#6368b4" stroke="#000" stroke-width="2.2" stroke-linejoin="round"/>
<polygon points="1694.40,350.62 1698.10,357.27 1690.70,357.27" fill="#6368b4" stroke="#000" stroke-width="2.2" stroke-linejoin="round"/>
<line x1="1738.60" y1="241.50" x2="1738.60" y2="281.50" stroke="#000" stroke-width="2.5"/>
<line x1="1732.60" y1="241.50" x2="1744.60" y2="241.50" stroke="#000" stroke-width="2.5"/>
<line x1="1732.60" y1="281.50" x2="1744.60" y2="281.50" stroke="#000" stroke-width="2.5"/>
<circle cx="1738.60" cy="240.50" r="4.00" fill="#838383" stroke="#000" stroke-width="2.5"/>
<circle cx="1738.60" cy="258.50" r="4.00" fill="#838383" stroke="#000" stroke-width="2.5"/>
<circle cx="1738.60" cy="279.50" r="4.00" fill="#838383" stroke="#000" stroke-width="2.5"/>
<rect x="1759.15" y="150.15" width="7.70" height="7.70" fill="#de2a94" stroke="#000" stroke-width="2.4" stroke-linejoin="round"/>
<rect x="1753.15" y="156.15" width="7.70" height="7.70" fill="#de2a94" stroke="#000" stroke-width="2.4" stroke-linejoin="round"/>
<rect x="1765.65" y="154.15" width="7.70" height="7.70" fill="#de2a94" stroke="#000" stroke-width="2.4" stroke-linejoin="round"/>
<polygon points="1787.50,181.12 1791.20,187.78 1783.80,187.78" fill="#6368b4" stroke="#000" stroke-width="2.2" stroke-linejoin="round"/>
<polygon points="1781.50,183.62 1785.20,190.28 1777.80,190.28" fill="#6368b4" stroke="#000" stroke-width="2.2" stroke-linejoin="round"/>
<polygon points="1793.50,183.62 1797.20,190.28 1789.80,190.28" fill="#6368b4" stroke="#000" stroke-width="2.2" stroke-linejoin="round"/>
<text x="1672.70" y="517.00" font-size="42.5" font-weight="bold" text-anchor="middle" stroke="#000" stroke-width="0.59" stroke-linejoin="round">LL</text>
<text x="1760.20" y="517.00" font-size="42.5" font-weight="bold" text-anchor="middle" stroke="#000" stroke-width="0.59" stroke-linejoin="round">HL</text>
<line x1="1638.21" y1="272.30" x2="1674.38" y2="272.30" stroke="#000" stroke-width="2.7" stroke-linecap="round"/>
<text x="1657.30" y="274.20" font-size="41.5" font-weight="bold" text-anchor="middle" stroke="#000" stroke-width="0.58" stroke-linejoin="round">****</text>
<line x1="1676.81" y1="288.00" x2="1712.99" y2="288.00" stroke="#000" stroke-width="2.7" stroke-linecap="round"/>
<text x="1695.30" y="289.90" font-size="41.5" font-weight="bold" text-anchor="middle" stroke="#000" stroke-width="0.58" stroke-linejoin="round">*</text>
<line x1="1726.01" y1="141.20" x2="1762.09" y2="141.20" stroke="#000" stroke-width="2.7" stroke-linecap="round"/>
<text x="1743.70" y="143.10" font-size="41.5" font-weight="bold" text-anchor="middle" stroke="#000" stroke-width="0.58" stroke-linejoin="round">****</text>
<line x1="1775.12" y1="141.20" x2="1811.29" y2="141.20" stroke="#000" stroke-width="2.7" stroke-linecap="round"/>
<text x="1793.40" y="128.60" font-size="22" text-anchor="middle">ns</text>
<rect x="1833.90" y="166.00" width="28.20" height="28.20" fill="#838383"/>
<rect x="1833.90" y="216.40" width="28.20" height="28.20" fill="#f445b0"/>
<rect x="1833.90" y="272.30" width="28.20" height="28.20" fill="#767ab8"/>
<text x="1874.00" y="193.70" font-size="42.5" font-weight="bold" stroke="#000" stroke-width="0.59" stroke-linejoin="round">WT</text>
<text x="1876.50" y="245.30" font-size="42.5" font-weight="bold" font-style="italic" stroke="#000" stroke-width="0.59" stroke-linejoin="round">lcr1</text>
<text x="1879.00" y="294.50" font-size="42.5" font-weight="bold" font-style="italic" stroke="#000" stroke-width="0.59" stroke-linejoin="round">lcr1-C</text>
<text x="11.50" y="638.00" font-size="57" font-weight="bold" stroke="#000" stroke-width="0.80" stroke-linejoin="round">c</text>
<text x="69.20" y="789.40" font-size="41" font-weight="bold" stroke="#000" stroke-width="0.57" stroke-linejoin="round">kDa</text>
<text x="192.20" y="800.30" font-size="42.2" font-weight="bold" transform="rotate(-57 192.20 800.30)" stroke="#000" stroke-width="0.95" stroke-linejoin="round">WT</text>
<text x="261.80" y="793.00" font-size="42.0" font-weight="bold" font-style="italic" transform="rotate(-61 261.80 793.00)" stroke="#000" stroke-width="0.95" stroke-linejoin="round">lcr1</text>
<text x="329.10" y="794.00" font-size="42.6" font-weight="bold" font-style="italic" transform="rotate(-60 329.10 794.00)" stroke="#000" stroke-width="0.95" stroke-linejoin="round">lcr1-C</text>
<text x="393.40" y="798.20" font-size="42.2" font-weight="bold" transform="rotate(-57 393.40 798.20)" stroke="#000" stroke-width="0.95" stroke-linejoin="round">WT</text>
<text x="463.60" y="797.60" font-size="42.0" font-weight="bold" font-style="italic" transform="rotate(-61 463.60 797.60)" stroke="#000" stroke-width="0.95" stroke-linejoin="round">lcr1</text>
<text x="530.60" y="798.70" font-size="42.6" font-weight="bold" font-style="italic" transform="rotate(-60 530.60 798.70)" stroke="#000" stroke-width="0.95" stroke-linejoin="round">lcr1-C</text>
<text x="65.60" y="845.60" font-size="42.6" stroke="#000" stroke-width="0.7">50</text>
<line x1="118.00" y1="832.00" x2="139.20" y2="832.00" stroke="#000" stroke-width="3.5"/>
<text x="65.60" y="900.90" font-size="42.6" stroke="#000" stroke-width="0.7">25</text>
<line x1="118.00" y1="887.30" x2="139.20" y2="887.30" stroke="#000" stroke-width="3.5"/>
<text x="65.60" y="953.40" font-size="42.6" stroke="#000" stroke-width="0.7">25</text>
<line x1="118.00" y1="939.80" x2="139.20" y2="939.80" stroke="#000" stroke-width="3.5"/>
<text x="65.60" y="1019.90" font-size="42.6" stroke="#000" stroke-width="0.7">25</text>
<line x1="118.00" y1="1006.30" x2="139.20" y2="1006.30" stroke="#000" stroke-width="3.5"/>
<rect x="158.00" y="820.40" width="395.80" height="23.50" fill="url(#gA)"/>
<g clip-path="url(#cA)">
<rect x="162.8" y="831.0" width="50.0" height="9.2" rx="4.6" fill="#000" opacity="0.55" filter="url(#bl3)"/>
<rect x="163.8" y="832.0" width="48.0" height="7.2" rx="3.6" fill="#000" opacity="1" filter="url(#bl1)"/>
<rect x="223.8" y="830.5" width="55.0" height="8.6" rx="4.3" fill="#000" opacity="0.55" filter="url(#bl3)" transform="rotate(-2 251.3 834.8)"/>
<rect x="224.8" y="831.5" width="53.0" height="6.6" rx="3.3" fill="#000" opacity="1" filter="url(#bl1)" transform="rotate(-2 251.3 834.8)"/>
<rect x="293.1" y="829.5" width="52.0" height="8.2" rx="4.1" fill="#000" opacity="0.5" filter="url(#bl3)" transform="rotate(-1 319.1 833.6)"/>
<rect x="294.1" y="830.5" width="50.0" height="6.2" rx="3.1" fill="#000" opacity="1" filter="url(#bl1)" transform="rotate(-1 319.1 833.6)"/>
<rect x="358.3" y="828.1" width="54.0" height="8.4" rx="4.2" fill="#000" opacity="0.5" filter="url(#bl3)"/>
<rect x="359.3" y="829.1" width="52.0" height="6.4" rx="3.2" fill="#000" opacity="1" filter="url(#bl1)"/>
<rect x="427.6" y="827.6" width="54.0" height="7.8" rx="3.9" fill="#000" opacity="0.5" filter="url(#bl3)"/>
<rect x="428.6" y="828.6" width="52.0" height="5.8" rx="2.9" fill="#000" opacity="1" filter="url(#bl1)"/>
<rect x="494.8" y="828.2" width="52.0" height="7.6" rx="3.8" fill="#000" opacity="0.5" filter="url(#bl3)"/>
<rect x="495.8" y="829.2" width="50.0" height="5.6" rx="2.8" fill="#000" opacity="1" filter="url(#bl1)"/>
</g>
<rect x="158.00" y="866.20" width="395.80" height="29.60" fill="url(#gB)"/>
<g clip-path="url(#cB)">
<rect x="357.6" y="880.5" width="50.0" height="7.0" rx="3.5" fill="#000" opacity="0.3" filter="url(#bl3)" transform="rotate(-1 382.6 884.0)"/>
<rect x="358.6" y="881.5" width="48.0" height="5.0" rx="2.5" fill="#000" opacity="0.8" filter="url(#bl1)" transform="rotate(-1 382.6 884.0)"/>
<rect x="421.6" y="876.9" width="58.0" height="11.6" rx="5.8" fill="#000" opacity="0.5" filter="url(#bl3)"/>
<rect x="422.6" y="877.9" width="56.0" height="9.6" rx="4.8" fill="#000" opacity="1" filter="url(#bl1)"/>
<rect x="494.6" y="877.8" width="52.0" height="8.6" rx="4.3" fill="#000" opacity="0.45" filter="url(#bl3)"/>
<rect x="495.6" y="878.8" width="50.0" height="6.6" rx="3.3" fill="#000" opacity="1" filter="url(#bl1)"/>
</g>
<rect x="158.00" y="919.30" width="395.80" height="34.70" fill="url(#gC)"/>
<g clip-path="url(#cC)">
<rect x="364.7" y="928.1" width="55.0" height="14.4" rx="7.2" fill="#000" opacity="0.5" filter="url(#bl3)"/>
<rect x="365.7" y="929.1" width="53.0" height="12.4" rx="6.2" fill="#000" opacity="1" filter="url(#bl1)"/>
<rect x="432.7" y="930.9" width="48.0" height="7.2" rx="3.6" fill="#000" opacity="0.4" filter="url(#bl3)" transform="rotate(-3 456.7 934.5)"/>
<rect x="433.7" y="931.9" width="46.0" height="5.2" rx="2.6" fill="#000" opacity="0.85" filter="url(#bl1)" transform="rotate(-3 456.7 934.5)"/>
<rect x="496.8" y="927.9" width="50.0" height="9.4" rx="4.7" fill="#000" opacity="0.45" filter="url(#bl3)" transform="rotate(-1 521.8 932.6)"/>
<rect x="497.8" y="928.9" width="48.0" height="7.4" rx="3.7" fill="#000" opacity="1" filter="url(#bl1)" transform="rotate(-1 521.8 932.6)"/>
</g>
<rect x="158.00" y="989.00" width="395.80" height="25.70" fill="url(#gD)"/>
<g clip-path="url(#cD)">
<rect x="162.0" y="999.5" width="38.0" height="6.0" rx="3.0" fill="#000" opacity="0.16" filter="url(#bl3)"/>
<rect x="223.0" y="1000.0" width="42.0" height="6.0" rx="3.0" fill="#000" opacity="0.14" filter="url(#bl3)"/>
<rect x="287.0" y="999.5" width="38.0" height="6.0" rx="3.0" fill="#000" opacity="0.12" filter="url(#bl3)"/>
<rect x="356.0" y="999.5" width="50.0" height="6.5" rx="3.2" fill="#000" opacity="0.3" filter="url(#bl3)"/>
<rect x="357.0" y="1000.5" width="48.0" height="4.5" rx="2.2" fill="#000" opacity="0.12" filter="url(#bl1)"/>
<rect x="423.5" y="998.3" width="58.0" height="8.6" rx="4.3" fill="#000" opacity="0.55" filter="url(#bl3)"/>
<rect x="424.5" y="999.3" width="56.0" height="6.6" rx="3.3" fill="#000" opacity="0.8" filter="url(#bl1)"/>
<rect x="496.8" y="1000.4" width="48.0" height="6.5" rx="3.2" fill="#000" opacity="0.32" filter="url(#bl3)"/>
<rect x="497.8" y="1001.4" width="46.0" height="4.5" rx="2.2" fill="#000" opacity="0.2" filter="url(#bl1)"/>
</g>
<text x="578.30" y="840.80" font-size="42.2" font-weight="bold" stroke="#000" stroke-width="0.59" stroke-linejoin="round">ATPB</text>
<text x="578.00" y="893.60" font-size="41.3" font-weight="bold" stroke="#000" stroke-width="0.58" stroke-linejoin="round">LHCSR1</text>
<text x="581.60" y="959.60" font-size="41.8" font-weight="bold" stroke="#000" stroke-width="0.59" stroke-linejoin="round">LHCSR3</text>
<text x="578.00" y="1022.30" font-size="42.2" font-weight="bold" stroke="#000" stroke-width="0.59" stroke-linejoin="round">PSBS</text>
<line x1="159.50" y1="1030.40" x2="348.50" y2="1031.60" stroke="#000" stroke-width="3.3"/>
<line x1="369.00" y1="1030.40" x2="558.00" y2="1031.60" stroke="#000" stroke-width="3.3"/>
<text x="266.30" y="1076.00" font-size="42" font-weight="bold" text-anchor="middle" stroke="#000" stroke-width="0.59" stroke-linejoin="round">LL</text>
<text x="458.80" y="1076.00" font-size="42" font-weight="bold" text-anchor="middle" stroke="#000" stroke-width="0.59" stroke-linejoin="round">HL</text>
<text x="777.00" y="638.00" font-size="57" font-weight="bold" stroke="#000" stroke-width="0.80" stroke-linejoin="round">d</text>
<text x="892.30" y="864.80" font-size="42" font-weight="bold" text-anchor="middle" transform="rotate(-90 892.30 864.80)" stroke="#000" stroke-width="0.59" stroke-linejoin="round">Protein accumulation</text>
<rect x="979.40" y="955.00" width="20.70" height="81.60" fill="#838383"/>
<rect x="1004.90" y="1001.00" width="20.70" height="35.60" fill="#f445b0"/>
<rect x="1030.40" y="973.20" width="20.70" height="63.40" fill="#767ab8"/>
<rect x="1076.40" y="955.00" width="20.70" height="81.60" fill="#838383"/>
<rect x="1101.80" y="917.70" width="20.70" height="118.90" fill="#f445b0"/>
<rect x="1127.20" y="930.30" width="20.70" height="106.30" fill="#767ab8"/>
<rect x="1172.90" y="955.00" width="20.70" height="81.60" fill="#838383"/>
<rect x="1198.50" y="727.50" width="20.70" height="309.10" fill="#f445b0"/>
<rect x="1224.00" y="792.20" width="20.70" height="244.40" fill="#767ab8"/>
<line x1="969.20" y1="704.95" x2="969.20" y2="1038.05" stroke="#000" stroke-width="2.9"/>
<line x1="958.20" y1="1036.60" x2="1254.80" y2="1036.60" stroke="#000" stroke-width="2.9"/>
<line x1="958.20" y1="706.40" x2="969.20" y2="706.40" stroke="#000" stroke-width="2.9"/>
<text x="942.67" y="717.60" font-size="24.9" font-weight="bold" text-anchor="end" stroke="#000" stroke-width="0.5">10</text>
<text x="943.47" y="708.40" font-size="18.4" font-weight="bold" stroke="#000" stroke-width="0.3">3</text>
<line x1="963.20" y1="764.10" x2="969.20" y2="764.10" stroke="#000" stroke-width="2.9"/>
<line x1="963.20" y1="749.56" x2="969.20" y2="749.56" stroke="#000" stroke-width="2.9"/>
<line x1="963.20" y1="739.25" x2="969.20" y2="739.25" stroke="#000" stroke-width="2.9"/>
<line x1="963.20" y1="731.25" x2="969.20" y2="731.25" stroke="#000" stroke-width="2.9"/>
<line x1="963.20" y1="724.71" x2="969.20" y2="724.71" stroke="#000" stroke-width="2.9"/>
<line x1="963.20" y1="719.19" x2="969.20" y2="719.19" stroke="#000" stroke-width="2.9"/>
<line x1="963.20" y1="714.40" x2="969.20" y2="714.40" stroke="#000" stroke-width="2.9"/>
<line x1="963.20" y1="710.18" x2="969.20" y2="710.18" stroke="#000" stroke-width="2.9"/>
<line x1="958.20" y1="788.95" x2="969.20" y2="788.95" stroke="#000" stroke-width="2.9"/>
<text x="942.67" y="800.15" font-size="24.9" font-weight="bold" text-anchor="end" stroke="#000" stroke-width="0.5">10</text>
<text x="943.47" y="790.95" font-size="18.4" font-weight="bold" stroke="#000" stroke-width="0.3">2</text>
<line x1="963.20" y1="846.65" x2="969.20" y2="846.65" stroke="#000" stroke-width="2.9"/>
<line x1="963.20" y1="832.11" x2="969.20" y2="832.11" stroke="#000" stroke-width="2.9"/>
<line x1="963.20" y1="821.80" x2="969.20" y2="821.80" stroke="#000" stroke-width="2.9"/>
<line x1="963.20" y1="813.80" x2="969.20" y2="813.80" stroke="#000" stroke-width="2.9"/>
<line x1="963.20" y1="807.26" x2="969.20" y2="807.26" stroke="#000" stroke-width="2.9"/>
<line x1="963.20" y1="801.74" x2="969.20" y2="801.74" stroke="#000" stroke-width="2.9"/>
<line x1="963.20" y1="796.95" x2="969.20" y2="796.95" stroke="#000" stroke-width="2.9"/>
<line x1="963.20" y1="792.73" x2="969.20" y2="792.73" stroke="#000" stroke-width="2.9"/>
<line x1="958.20" y1="871.50" x2="969.20" y2="871.50" stroke="#000" stroke-width="2.9"/>
<text x="942.67" y="882.70" font-size="24.9" font-weight="bold" text-anchor="end" stroke="#000" stroke-width="0.5">10</text>
<text x="943.47" y="873.50" font-size="18.4" font-weight="bold" stroke="#000" stroke-width="0.3">1</text>
<line x1="963.20" y1="929.20" x2="969.20" y2="929.20" stroke="#000" stroke-width="2.9"/>
<line x1="963.20" y1="914.66" x2="969.20" y2="914.66" stroke="#000" stroke-width="2.9"/>
<line x1="963.20" y1="904.35" x2="969.20" y2="904.35" stroke="#000" stroke-width="2.9"/>
<line x1="963.20" y1="896.35" x2="969.20" y2="896.35" stroke="#000" stroke-width="2.9"/>
<line x1="963.20" y1="889.81" x2="969.20" y2="889.81" stroke="#000" stroke-width="2.9"/>
<line x1="963.20" y1="884.29" x2="969.20" y2="884.29" stroke="#000" stroke-width="2.9"/>
<line x1="963.20" y1="879.50" x2="969.20" y2="879.50" stroke="#000" stroke-width="2.9"/>
<line x1="963.20" y1="875.28" x2="969.20" y2="875.28" stroke="#000" stroke-width="2.9"/>
<line x1="958.20" y1="954.05" x2="969.20" y2="954.05" stroke="#000" stroke-width="2.9"/>
<text x="942.67" y="965.25" font-size="24.9" font-weight="bold" text-anchor="end" stroke="#000" stroke-width="0.5">10</text>
<text x="943.47" y="956.05" font-size="18.4" font-weight="bold" stroke="#000" stroke-width="0.3">0</text>
<line x1="963.20" y1="1011.75" x2="969.20" y2="1011.75" stroke="#000" stroke-width="2.9"/>
<line x1="963.20" y1="997.21" x2="969.20" y2="997.21" stroke="#000" stroke-width="2.9"/>
<line x1="963.20" y1="986.90" x2="969.20" y2="986.90" stroke="#000" stroke-width="2.9"/>
<line x1="963.20" y1="978.90" x2="969.20" y2="978.90" stroke="#000" stroke-width="2.9"/>
<line x1="963.20" y1="972.36" x2="969.20" y2="972.36" stroke="#000" stroke-width="2.9"/>
<line x1="963.20" y1="966.84" x2="969.20" y2="966.84" stroke="#000" stroke-width="2.9"/>
<line x1="963.20" y1="962.05" x2="969.20" y2="962.05" stroke="#000" stroke-width="2.9"/>
<line x1="963.20" y1="957.83" x2="969.20" y2="957.83" stroke="#000" stroke-width="2.9"/>
<text x="935.60" y="1047.80" font-size="24.9" font-weight="bold" text-anchor="end" stroke="#000" stroke-width="0.5">10</text>
<text x="937.30" y="1038.60" font-size="18.4" font-weight="bold" stroke="#000" stroke-width="0.3" textLength="14.3" lengthAdjust="spacingAndGlyphs">-1</text>
<ellipse cx="983.9" cy="955" rx="4.0" ry="4.5" fill="none" stroke="#000" stroke-width="1.9"/>
<ellipse cx="989.7" cy="955" rx="4.0" ry="4.5" fill="none" stroke="#000" stroke-width="1.9"/>
<ellipse cx="995.5" cy="955" rx="4.0" ry="4.5" fill="none" stroke="#000" stroke-width="1.9"/>
<ellipse cx="1080.9" cy="955" rx="4.0" ry="4.5" fill="none" stroke="#000" stroke-width="1.9"/>
<ellipse cx="1086.7" cy="955" rx="4.0" ry="4.5" fill="none" stroke="#000" stroke-width="1.9"/>
<ellipse cx="1092.5" cy="955" rx="4.0" ry="4.5" fill="none" stroke="#000" stroke-width="1.9"/>
<ellipse cx="1177.4" cy="955" rx="4.0" ry="4.5" fill="none" stroke="#000" stroke-width="1.9"/>
<ellipse cx="1183.2" cy="955" rx="4.0" ry="4.5" fill="none" stroke="#000" stroke-width="1.9"/>
<ellipse cx="1189.0" cy="955" rx="4.0" ry="4.5" fill="none" stroke="#000" stroke-width="1.9"/>
<line x1="1015.20" y1="994.50" x2="1015.20" y2="1021.50" stroke="#000" stroke-width="2.5"/>
<line x1="1011.20" y1="994.50" x2="1019.20" y2="994.50" stroke="#000" stroke-width="2.5"/>
<line x1="1011.20" y1="1021.50" x2="1019.20" y2="1021.50" stroke="#000" stroke-width="2.5"/>
<rect x="1005.70" y="994.90" width="9.20" height="9.20" fill="none" stroke="#000" stroke-width="2.4" stroke-linejoin="round"/>
<rect x="1015.70" y="995.70" width="9.20" height="9.20" fill="none" stroke="#000" stroke-width="2.4" stroke-linejoin="round"/>
<rect x="1010.60" y="1012.90" width="9.20" height="9.20" fill="none" stroke="#000" stroke-width="2.4" stroke-linejoin="round"/>
<line x1="1040.70" y1="963.00" x2="1040.70" y2="981.00" stroke="#000" stroke-width="2.5"/>
<line x1="1036.70" y1="963.00" x2="1044.70" y2="963.00" stroke="#000" stroke-width="2.5"/>
<line x1="1036.70" y1="981.00" x2="1044.70" y2="981.00" stroke="#000" stroke-width="2.5"/>
<polygon points="1040.70,964.75 1045.70,973.75 1035.70,973.75" fill="none" stroke="#000" stroke-width="2.2" stroke-linejoin="round"/>
<polygon points="1035.50,970.75 1040.50,979.75 1030.50,979.75" fill="none" stroke="#000" stroke-width="2.2" stroke-linejoin="round"/>
<polygon points="1046.00,971.25 1051.00,980.25 1041.00,980.25" fill="none" stroke="#000" stroke-width="2.2" stroke-linejoin="round"/>
<line x1="1112.20" y1="913.50" x2="1112.20" y2="925.00" stroke="#000" stroke-width="2.5"/>
<line x1="1108.20" y1="913.50" x2="1116.20" y2="913.50" stroke="#000" stroke-width="2.5"/>
<line x1="1108.20" y1="925.00" x2="1116.20" y2="925.00" stroke="#000" stroke-width="2.5"/>
<rect x="1102.20" y="916.40" width="9.20" height="9.20" fill="none" stroke="#000" stroke-width="2.4" stroke-linejoin="round"/>
<rect x="1107.60" y="911.90" width="9.20" height="9.20" fill="none" stroke="#000" stroke-width="2.4" stroke-linejoin="round"/>
<rect x="1113.00" y="913.90" width="9.20" height="9.20" fill="none" stroke="#000" stroke-width="2.4" stroke-linejoin="round"/>
<polygon points="1132.50,927.25 1137.50,936.25 1127.50,936.25" fill="none" stroke="#000" stroke-width="2.2" stroke-linejoin="round"/>
<polygon points="1137.50,924.25 1142.50,933.25 1132.50,933.25" fill="none" stroke="#000" stroke-width="2.2" stroke-linejoin="round"/>
<polygon points="1142.50,927.25 1147.50,936.25 1137.50,936.25" fill="none" stroke="#000" stroke-width="2.2" stroke-linejoin="round"/>
<line x1="1208.80" y1="714.00" x2="1208.80" y2="750.00" stroke="#000" stroke-width="2.5"/>
<line x1="1202.80" y1="714.00" x2="1214.80" y2="714.00" stroke="#000" stroke-width="2.5"/>
<line x1="1202.80" y1="750.00" x2="1214.80" y2="750.00" stroke="#000" stroke-width="2.5"/>
<rect x="1203.60" y="706.30" width="10.40" height="10.40" fill="none" stroke="#000" stroke-width="2.4" stroke-linejoin="round"/>
<rect x="1208.30" y="730.30" width="10.40" height="10.40" fill="none" stroke="#000" stroke-width="2.4" stroke-linejoin="round"/>
<rect x="1198.30" y="737.80" width="10.40" height="10.40" fill="none" stroke="#000" stroke-width="2.4" stroke-linejoin="round"/>
<line x1="1234.40" y1="780.00" x2="1234.40" y2="813.50" stroke="#000" stroke-width="2.5"/>
<line x1="1229.90" y1="780.00" x2="1238.90" y2="780.00" stroke="#000" stroke-width="2.5"/>
<line x1="1229.90" y1="813.50" x2="1238.90" y2="813.50" stroke="#000" stroke-width="2.5"/>
<polygon points="1234.40,775.25 1239.40,784.25 1229.40,784.25" fill="none" stroke="#000" stroke-width="2.2" stroke-linejoin="round"/>
<polygon points="1234.40,790.75 1239.40,799.75 1229.40,799.75" fill="none" stroke="#000" stroke-width="2.2" stroke-linejoin="round"/>
<polygon points="1234.40,802.75 1239.40,811.75 1229.40,811.75" fill="none" stroke="#000" stroke-width="2.2" stroke-linejoin="round"/>
<line x1="983.92" y1="928.60" x2="1019.78" y2="928.60" stroke="#000" stroke-width="2.7" stroke-linecap="round"/>
<text x="1001.90" y="930.50" font-size="41.5" font-weight="bold" text-anchor="middle" stroke="#000" stroke-width="0.58" stroke-linejoin="round">****</text>
<line x1="1015.72" y1="962.40" x2="1051.38" y2="962.40" stroke="#000" stroke-width="2.7" stroke-linecap="round"/>
<text x="1033.50" y="964.30" font-size="41.5" font-weight="bold" text-anchor="middle" stroke="#000" stroke-width="0.58" stroke-linejoin="round">****</text>
<line x1="1068.71" y1="888.70" x2="1104.59" y2="888.70" stroke="#000" stroke-width="2.7" stroke-linecap="round"/>
<text x="1086.70" y="890.60" font-size="41.5" font-weight="bold" text-anchor="middle" stroke="#000" stroke-width="0.58" stroke-linejoin="round">****</text>
<line x1="1113.51" y1="898.30" x2="1149.38" y2="898.30" stroke="#000" stroke-width="2.7" stroke-linecap="round"/>
<text x="1131.80" y="883.60" font-size="22" text-anchor="middle">ns</text>
<line x1="1157.62" y1="695.80" x2="1193.38" y2="695.80" stroke="#000" stroke-width="2.7" stroke-linecap="round"/>
<text x="1175.50" y="697.70" font-size="41.5" font-weight="bold" text-anchor="middle" stroke="#000" stroke-width="0.58" stroke-linejoin="round">****</text>
<line x1="1222.41" y1="708.00" x2="1258.59" y2="708.00" stroke="#000" stroke-width="2.7" stroke-linecap="round"/>
<text x="1240.50" y="709.90" font-size="41.5" font-weight="bold" text-anchor="middle" stroke="#000" stroke-width="0.58" stroke-linejoin="round">****</text>
<rect x="986.30" y="685.00" width="28.20" height="28.20" fill="#838383"/>
<rect x="986.30" y="735.40" width="28.20" height="28.20" fill="#f445b0"/>
<rect x="986.30" y="790.90" width="28.20" height="28.20" fill="#767ab8"/>
<text x="1026.50" y="712.70" font-size="42.5" font-weight="bold" stroke="#000" stroke-width="0.59" stroke-linejoin="round">WT</text>
<text x="1029.00" y="764.40" font-size="42.5" font-weight="bold" font-style="italic" stroke="#000" stroke-width="0.59" stroke-linejoin="round">lcr1</text>
<text x="1031.50" y="813.80" font-size="42.5" font-weight="bold" font-style="italic" stroke="#000" stroke-width="0.59" stroke-linejoin="round">lcr1-C</text>
<text x="908.30" y="1182.20" font-size="42.1" font-weight="bold" transform="rotate(-42 908.30 1182.20)" stroke="#000" stroke-width="0.59" stroke-linejoin="round">LHCSR3</text>
<text x="1000.70" y="1188.80" font-size="41.2" font-weight="bold" transform="rotate(-42 1000.70 1188.80)" stroke="#000" stroke-width="0.58" stroke-linejoin="round">LHCSR1</text>
<text x="1143.60" y="1160.70" font-size="42.2" font-weight="bold" transform="rotate(-42 1143.60 1160.70)" stroke="#000" stroke-width="0.59" stroke-linejoin="round">PSBS</text>
<text x="1359.50" y="638.00" font-size="57" font-weight="bold" stroke="#000" stroke-width="0.80" stroke-linejoin="round">e</text>
<g opacity="0.8">
<polyline points="1520.00,898.80 1529.40,940.10 1538.80,947.70 1548.80,823.30 1563.60,814.50 1578.90,822.70 1593.30,840.80 1608.70,855.00 1623.90,866.30 1638.70,874.40 1653.00,880.70 1667.80,884.40 1682.80,890.70 1697.50,886.30 1712.80,900.70 1727.80,902.00 1733.20,968.80 1742.30,951.40 1757.30,949.50 1777.00,953.90 1797.60,961.80 1817.70,973.30 1838.00,982.70 1858.40,988.30 1878.60,994.00 1899.00,1000.00 1918.40,1005.00" fill="none" stroke="#6670b8" stroke-width="2.3" stroke-linejoin="round"/>
</g>
<g opacity="0.8">
<line x1="1520.00" y1="891.30" x2="1520.00" y2="905.70" stroke="#6670b8" stroke-width="1.8"/>
<line x1="1515.00" y1="891.30" x2="1525.00" y2="891.30" stroke="#6670b8" stroke-width="1.8"/>
<line x1="1515.00" y1="905.70" x2="1525.00" y2="905.70" stroke="#6670b8" stroke-width="1.8"/>
<line x1="1529.40" y1="933.90" x2="1529.40" y2="946.40" stroke="#6670b8" stroke-width="1.8"/>
<line x1="1524.40" y1="933.90" x2="1534.40" y2="933.90" stroke="#6670b8" stroke-width="1.8"/>
<line x1="1524.40" y1="946.40" x2="1534.40" y2="946.40" stroke="#6670b8" stroke-width="1.8"/>
<line x1="1538.80" y1="942.70" x2="1538.80" y2="952.70" stroke="#6670b8" stroke-width="1.8"/>
<line x1="1533.80" y1="942.70" x2="1543.80" y2="942.70" stroke="#6670b8" stroke-width="1.8"/>
<line x1="1533.80" y1="952.70" x2="1543.80" y2="952.70" stroke="#6670b8" stroke-width="1.8"/>
<line x1="1548.80" y1="812.00" x2="1548.80" y2="833.30" stroke="#6670b8" stroke-width="1.8"/>
<line x1="1543.80" y1="812.00" x2="1553.80" y2="812.00" stroke="#6670b8" stroke-width="1.8"/>
<line x1="1543.80" y1="833.30" x2="1553.80" y2="833.30" stroke="#6670b8" stroke-width="1.8"/>
<line x1="1563.60" y1="803.00" x2="1563.60" y2="826.40" stroke="#6670b8" stroke-width="1.8"/>
<line x1="1558.60" y1="803.00" x2="1568.60" y2="803.00" stroke="#6670b8" stroke-width="1.8"/>
<line x1="1558.60" y1="826.40" x2="1568.60" y2="826.40" stroke="#6670b8" stroke-width="1.8"/>
<line x1="1578.90" y1="808.90" x2="1578.90" y2="835.80" stroke="#6670b8" stroke-width="1.8"/>
<line x1="1573.90" y1="808.90" x2="1583.90" y2="808.90" stroke="#6670b8" stroke-width="1.8"/>
<line x1="1573.90" y1="835.80" x2="1583.90" y2="835.80" stroke="#6670b8" stroke-width="1.8"/>
<line x1="1593.30" y1="826.40" x2="1593.30" y2="855.00" stroke="#6670b8" stroke-width="1.8"/>
<line x1="1588.30" y1="826.40" x2="1598.30" y2="826.40" stroke="#6670b8" stroke-width="1.8"/>
<line x1="1588.30" y1="855.00" x2="1598.30" y2="855.00" stroke="#6670b8" stroke-width="1.8"/>
<line x1="1608.70" y1="840.00" x2="1608.70" y2="871.90" stroke="#6670b8" stroke-width="1.8"/>
<line x1="1603.70" y1="840.00" x2="1613.70" y2="840.00" stroke="#6670b8" stroke-width="1.8"/>
<line x1="1603.70" y1="871.90" x2="1613.70" y2="871.90" stroke="#6670b8" stroke-width="1.8"/>
<line x1="1623.90" y1="850.00" x2="1623.90" y2="883.20" stroke="#6670b8" stroke-width="1.8"/>
<line x1="1618.90" y1="850.00" x2="1628.90" y2="850.00" stroke="#6670b8" stroke-width="1.8"/>
<line x1="1618.90" y1="883.20" x2="1628.90" y2="883.20" stroke="#6670b8" stroke-width="1.8"/>
<line x1="1638.70" y1="860.00" x2="1638.70" y2="888.80" stroke="#6670b8" stroke-width="1.8"/>
<line x1="1633.70" y1="860.00" x2="1643.70" y2="860.00" stroke="#6670b8" stroke-width="1.8"/>
<line x1="1633.70" y1="888.80" x2="1643.70" y2="888.80" stroke="#6670b8" stroke-width="1.8"/>
<line x1="1653.00" y1="863.80" x2="1653.00" y2="897.00" stroke="#6670b8" stroke-width="1.8"/>
<line x1="1648.00" y1="863.80" x2="1658.00" y2="863.80" stroke="#6670b8" stroke-width="1.8"/>
<line x1="1648.00" y1="897.00" x2="1658.00" y2="897.00" stroke="#6670b8" stroke-width="1.8"/>
<line x1="1667.80" y1="868.20" x2="1667.80" y2="898.80" stroke="#6670b8" stroke-width="1.8"/>
<line x1="1662.80" y1="868.20" x2="1672.80" y2="868.20" stroke="#6670b8" stroke-width="1.8"/>
<line x1="1662.80" y1="898.80" x2="1672.80" y2="898.80" stroke="#6670b8" stroke-width="1.8"/>
<line x1="1682.80" y1="874.40" x2="1682.80" y2="903.80" stroke="#6670b8" stroke-width="1.8"/>
<line x1="1677.80" y1="874.40" x2="1687.80" y2="874.40" stroke="#6670b8" stroke-width="1.8"/>
<line x1="1677.80" y1="903.80" x2="1687.80" y2="903.80" stroke="#6670b8" stroke-width="1.8"/>
<line x1="1697.50" y1="872.00" x2="1697.50" y2="900.70" stroke="#6670b8" stroke-width="1.8"/>
<line x1="1692.50" y1="872.00" x2="1702.50" y2="872.00" stroke="#6670b8" stroke-width="1.8"/>
<line x1="1692.50" y1="900.70" x2="1702.50" y2="900.70" stroke="#6670b8" stroke-width="1.8"/>
<line x1="1712.80" y1="887.60" x2="1712.80" y2="912.00" stroke="#6670b8" stroke-width="1.8"/>
<line x1="1707.80" y1="887.60" x2="1717.80" y2="887.60" stroke="#6670b8" stroke-width="1.8"/>
<line x1="1707.80" y1="912.00" x2="1717.80" y2="912.00" stroke="#6670b8" stroke-width="1.8"/>
<line x1="1727.80" y1="890.70" x2="1727.80" y2="912.00" stroke="#6670b8" stroke-width="1.8"/>
<line x1="1722.80" y1="890.70" x2="1732.80" y2="890.70" stroke="#6670b8" stroke-width="1.8"/>
<line x1="1722.80" y1="912.00" x2="1732.80" y2="912.00" stroke="#6670b8" stroke-width="1.8"/>
<line x1="1733.20" y1="959.40" x2="1733.20" y2="978.20" stroke="#6670b8" stroke-width="1.8"/>
<line x1="1728.20" y1="959.40" x2="1738.20" y2="959.40" stroke="#6670b8" stroke-width="1.8"/>
<line x1="1728.20" y1="978.20" x2="1738.20" y2="978.20" stroke="#6670b8" stroke-width="1.8"/>
<line x1="1742.30" y1="943.90" x2="1742.30" y2="957.70" stroke="#6670b8" stroke-width="1.8"/>
<line x1="1737.30" y1="943.90" x2="1747.30" y2="943.90" stroke="#6670b8" stroke-width="1.8"/>
<line x1="1737.30" y1="957.70" x2="1747.30" y2="957.70" stroke="#6670b8" stroke-width="1.8"/>
<line x1="1757.30" y1="944.00" x2="1757.30" y2="955.00" stroke="#6670b8" stroke-width="1.8"/>
<line x1="1752.30" y1="944.00" x2="1762.30" y2="944.00" stroke="#6670b8" stroke-width="1.8"/>
<line x1="1752.30" y1="955.00" x2="1762.30" y2="955.00" stroke="#6670b8" stroke-width="1.8"/>
</g>
<rect x="1515.70" y="894.50" width="8.60" height="8.60" fill="#6670b8" opacity="0.8"/>
<rect x="1525.10" y="935.80" width="8.60" height="8.60" fill="#6670b8" opacity="0.8"/>
<rect x="1534.50" y="943.40" width="8.60" height="8.60" fill="#6670b8" opacity="0.8"/>
<rect x="1544.50" y="819.00" width="8.60" height="8.60" fill="#6670b8" opacity="0.8"/>
<rect x="1559.30" y="810.20" width="8.60" height="8.60" fill="#6670b8" opacity="0.8"/>
<rect x="1574.60" y="818.40" width="8.60" height="8.60" fill="#6670b8" opacity="0.8"/>
<rect x="1589.00" y="836.50" width="8.60" height="8.60" fill="#6670b8" opacity="0.8"/>
<rect x="1604.40" y="850.70" width="8.60" height="8.60" fill="#6670b8" opacity="0.8"/>
<rect x="1619.60" y="862.00" width="8.60" height="8.60" fill="#6670b8" opacity="0.8"/>
<rect x="1634.40" y="870.10" width="8.60" height="8.60" fill="#6670b8" opacity="0.8"/>
<rect x="1648.70" y="876.40" width="8.60" height="8.60" fill="#6670b8" opacity="0.8"/>
<rect x="1663.50" y="880.10" width="8.60" height="8.60" fill="#6670b8" opacity="0.8"/>
<rect x="1678.50" y="886.40" width="8.60" height="8.60" fill="#6670b8" opacity="0.8"/>
<rect x="1693.20" y="882.00" width="8.60" height="8.60" fill="#6670b8" opacity="0.8"/>
<rect x="1708.50" y="896.40" width="8.60" height="8.60" fill="#6670b8" opacity="0.8"/>
<rect x="1723.50" y="897.70" width="8.60" height="8.60" fill="#6670b8" opacity="0.8"/>
<rect x="1728.90" y="964.50" width="8.60" height="8.60" fill="#6670b8" opacity="0.8"/>
<rect x="1738.00" y="947.10" width="8.60" height="8.60" fill="#6670b8" opacity="0.8"/>
<rect x="1753.00" y="945.20" width="8.60" height="8.60" fill="#6670b8" opacity="0.8"/>
<rect x="1772.70" y="949.60" width="8.60" height="8.60" fill="#6670b8" opacity="0.8"/>
<rect x="1793.30" y="957.50" width="8.60" height="8.60" fill="#6670b8" opacity="0.8"/>
<rect x="1813.40" y="969.00" width="8.60" height="8.60" fill="#6670b8" opacity="0.8"/>
<rect x="1833.70" y="978.40" width="8.60" height="8.60" fill="#6670b8" opacity="0.8"/>
<rect x="1854.10" y="984.00" width="8.60" height="8.60" fill="#6670b8" opacity="0.8"/>
<rect x="1874.30" y="989.70" width="8.60" height="8.60" fill="#6670b8" opacity="0.8"/>
<rect x="1894.70" y="995.70" width="8.60" height="8.60" fill="#6670b8" opacity="0.8"/>
<rect x="1914.10" y="1000.70" width="8.60" height="8.60" fill="#6670b8" opacity="0.8"/>
<g opacity="0.85">
<polyline points="1520.00,963.30 1529.40,992.00 1538.80,995.10 1548.80,942.50 1563.60,939.40 1578.90,942.50 1593.30,951.30 1608.70,960.00 1623.90,963.50 1638.70,965.40 1653.00,967.60 1667.80,967.60 1682.80,968.80 1697.50,964.00 1712.80,969.80 1727.80,967.30 1733.20,985.70 1742.30,975.20 1757.30,966.40 1777.00,967.40 1797.60,975.80 1817.70,982.70 1838.00,990.20 1858.40,995.20 1878.60,1000.20 1899.00,1002.40 1918.40,1006.40" fill="none" stroke="#f84fb4" stroke-width="2.2" stroke-linejoin="round"/>
</g>
<g opacity="0.85">
<line x1="1548.80" y1="933.10" x2="1548.80" y2="951.30" stroke="#f84fb4" stroke-width="2.0"/>
<line x1="1541.80" y1="933.10" x2="1555.80" y2="933.10" stroke="#f84fb4" stroke-width="2.0"/>
<line x1="1541.80" y1="951.30" x2="1555.80" y2="951.30" stroke="#f84fb4" stroke-width="2.0"/>
<line x1="1563.60" y1="932.50" x2="1563.60" y2="947.50" stroke="#f84fb4" stroke-width="2.0"/>
<line x1="1556.60" y1="932.50" x2="1570.60" y2="932.50" stroke="#f84fb4" stroke-width="2.0"/>
<line x1="1556.60" y1="947.50" x2="1570.60" y2="947.50" stroke="#f84fb4" stroke-width="2.0"/>
<line x1="1593.30" y1="943.80" x2="1593.30" y2="958.20" stroke="#f84fb4" stroke-width="2.0"/>
<line x1="1586.30" y1="943.80" x2="1600.30" y2="943.80" stroke="#f84fb4" stroke-width="2.0"/>
<line x1="1586.30" y1="958.20" x2="1600.30" y2="958.20" stroke="#f84fb4" stroke-width="2.0"/>
<line x1="1608.70" y1="952.50" x2="1608.70" y2="967.00" stroke="#f84fb4" stroke-width="2.0"/>
<line x1="1601.70" y1="952.50" x2="1615.70" y2="952.50" stroke="#f84fb4" stroke-width="2.0"/>
<line x1="1601.70" y1="967.00" x2="1615.70" y2="967.00" stroke="#f84fb4" stroke-width="2.0"/>
</g>
<circle cx="1520.00" cy="963.30" r="6.30" fill="#f84fb4" opacity="0.85"/>
<circle cx="1529.40" cy="992.00" r="6.30" fill="#f84fb4" opacity="0.85"/>
<circle cx="1538.80" cy="995.10" r="6.30" fill="#f84fb4" opacity="0.85"/>
<circle cx="1548.80" cy="942.50" r="6.30" fill="#f84fb4" opacity="0.85"/>
<circle cx="1563.60" cy="939.40" r="6.30" fill="#f84fb4" opacity="0.85"/>
<circle cx="1578.90" cy="942.50" r="6.30" fill="#f84fb4" opacity="0.85"/>
<circle cx="1593.30" cy="951.30" r="6.30" fill="#f84fb4" opacity="0.85"/>
<circle cx="1608.70" cy="960.00" r="6.30" fill="#f84fb4" opacity="0.85"/>
<circle cx="1623.90" cy="963.50" r="6.30" fill="#f84fb4" opacity="0.85"/>
<circle cx="1638.70" cy="965.40" r="6.30" fill="#f84fb4" opacity="0.85"/>
<circle cx="1653.00" cy="967.60" r="6.30" fill="#f84fb4" opacity="0.85"/>
<circle cx="1667.80" cy="967.60" r="6.30" fill="#f84fb4" opacity="0.85"/>
<circle cx="1682.80" cy="968.80" r="6.30" fill="#f84fb4" opacity="0.85"/>
<circle cx="1697.50" cy="964.00" r="6.30" fill="#f84fb4" opacity="0.85"/>
<circle cx="1712.80" cy="969.80" r="6.30" fill="#f84fb4" opacity="0.85"/>
<circle cx="1727.80" cy="967.30" r="6.30" fill="#f84fb4" opacity="0.85"/>
<circle cx="1733.20" cy="985.70" r="6.30" fill="#f84fb4" opacity="0.85"/>
<circle cx="1742.30" cy="975.20" r="6.30" fill="#f84fb4" opacity="0.85"/>
<circle cx="1757.30" cy="966.40" r="6.30" fill="#f84fb4" opacity="0.85"/>
<circle cx="1777.00" cy="967.40" r="6.30" fill="#f84fb4" opacity="0.85"/>
<circle cx="1797.60" cy="975.80" r="6.30" fill="#f84fb4" opacity="0.85"/>
<circle cx="1817.70" cy="982.70" r="6.30" fill="#f84fb4" opacity="0.85"/>
<circle cx="1838.00" cy="990.20" r="6.30" fill="#f84fb4" opacity="0.85"/>
<circle cx="1858.40" cy="995.20" r="6.30" fill="#f84fb4" opacity="0.85"/>
<circle cx="1878.60" cy="1000.20" r="6.30" fill="#f84fb4" opacity="0.85"/>
<circle cx="1899.00" cy="1002.40" r="6.30" fill="#f84fb4" opacity="0.85"/>
<circle cx="1918.40" cy="1006.40" r="6.30" fill="#f84fb4" opacity="0.85"/>
<g opacity="0.93">
<polyline points="1520.00,870.00 1529.40,925.10 1538.80,940.10 1548.80,765.70 1563.60,755.70 1578.90,782.60 1593.30,821.70 1608.70,848.80 1623.90,857.80 1638.70,863.20 1653.00,873.40 1667.80,877.20 1682.80,883.40 1697.50,875.90 1712.80,881.30 1727.80,876.60 1733.20,1006.60 1742.30,983.60 1757.30,979.20 1777.00,975.20 1797.60,974.20 1817.70,970.40 1838.00,968.60 1858.40,969.80 1878.60,977.70 1899.00,984.20 1918.40,993.30" fill="none" stroke="#8c8c8c" stroke-width="2.6" stroke-linejoin="round"/>
</g>
<g opacity="0.93">
<line x1="1548.80" y1="756.00" x2="1548.80" y2="777.30" stroke="#8c8c8c" stroke-width="2.4"/>
<line x1="1541.30" y1="756.00" x2="1556.30" y2="756.00" stroke="#8c8c8c" stroke-width="2.4"/>
<line x1="1541.30" y1="777.30" x2="1556.30" y2="777.30" stroke="#8c8c8c" stroke-width="2.4"/>
<line x1="1563.60" y1="743.80" x2="1563.60" y2="768.20" stroke="#8c8c8c" stroke-width="2.4"/>
<line x1="1556.10" y1="743.80" x2="1571.10" y2="743.80" stroke="#8c8c8c" stroke-width="2.4"/>
<line x1="1556.10" y1="768.20" x2="1571.10" y2="768.20" stroke="#8c8c8c" stroke-width="2.4"/>
<line x1="1578.90" y1="769.70" x2="1578.90" y2="795.70" stroke="#8c8c8c" stroke-width="2.4"/>
<line x1="1571.40" y1="769.70" x2="1586.40" y2="769.70" stroke="#8c8c8c" stroke-width="2.4"/>
<line x1="1571.40" y1="795.70" x2="1586.40" y2="795.70" stroke="#8c8c8c" stroke-width="2.4"/>
<line x1="1593.30" y1="812.00" x2="1593.30" y2="831.40" stroke="#8c8c8c" stroke-width="2.4"/>
<line x1="1585.80" y1="812.00" x2="1600.80" y2="812.00" stroke="#8c8c8c" stroke-width="2.4"/>
<line x1="1585.80" y1="831.40" x2="1600.80" y2="831.40" stroke="#8c8c8c" stroke-width="2.4"/>
<line x1="1608.70" y1="840.80" x2="1608.70" y2="858.30" stroke="#8c8c8c" stroke-width="2.4"/>
<line x1="1601.20" y1="840.80" x2="1616.20" y2="840.80" stroke="#8c8c8c" stroke-width="2.4"/>
<line x1="1601.20" y1="858.30" x2="1616.20" y2="858.30" stroke="#8c8c8c" stroke-width="2.4"/>
<line x1="1623.90" y1="852.50" x2="1623.90" y2="866.90" stroke="#8c8c8c" stroke-width="2.4"/>
<line x1="1616.40" y1="852.50" x2="1631.40" y2="852.50" stroke="#8c8c8c" stroke-width="2.4"/>
<line x1="1616.40" y1="866.90" x2="1631.40" y2="866.90" stroke="#8c8c8c" stroke-width="2.4"/>
<line x1="1638.70" y1="858.00" x2="1638.70" y2="871.30" stroke="#8c8c8c" stroke-width="2.4"/>
<line x1="1631.20" y1="858.00" x2="1646.20" y2="858.00" stroke="#8c8c8c" stroke-width="2.4"/>
<line x1="1631.20" y1="871.30" x2="1646.20" y2="871.30" stroke="#8c8c8c" stroke-width="2.4"/>
<line x1="1697.50" y1="866.30" x2="1697.50" y2="886.30" stroke="#8c8c8c" stroke-width="2.4"/>
<line x1="1690.00" y1="866.30" x2="1705.00" y2="866.30" stroke="#8c8c8c" stroke-width="2.4"/>
<line x1="1690.00" y1="886.30" x2="1705.00" y2="886.30" stroke="#8c8c8c" stroke-width="2.4"/>
<line x1="1712.80" y1="870.70" x2="1712.80" y2="893.20" stroke="#8c8c8c" stroke-width="2.4"/>
<line x1="1705.30" y1="870.70" x2="1720.30" y2="870.70" stroke="#8c8c8c" stroke-width="2.4"/>
<line x1="1705.30" y1="893.20" x2="1720.30" y2="893.20" stroke="#8c8c8c" stroke-width="2.4"/>
<line x1="1727.80" y1="868.20" x2="1727.80" y2="885.70" stroke="#8c8c8c" stroke-width="2.4"/>
<line x1="1720.30" y1="868.20" x2="1735.30" y2="868.20" stroke="#8c8c8c" stroke-width="2.4"/>
<line x1="1720.30" y1="885.70" x2="1735.30" y2="885.70" stroke="#8c8c8c" stroke-width="2.4"/>
<line x1="1757.30" y1="974.00" x2="1757.30" y2="986.50" stroke="#8c8c8c" stroke-width="2.4"/>
<line x1="1749.80" y1="974.00" x2="1764.80" y2="974.00" stroke="#8c8c8c" stroke-width="2.4"/>
<line x1="1749.80" y1="986.50" x2="1764.80" y2="986.50" stroke="#8c8c8c" stroke-width="2.4"/>
<line x1="1777.00" y1="970.00" x2="1777.00" y2="985.80" stroke="#8c8c8c" stroke-width="2.4"/>
<line x1="1769.50" y1="970.00" x2="1784.50" y2="970.00" stroke="#8c8c8c" stroke-width="2.4"/>
<line x1="1769.50" y1="985.80" x2="1784.50" y2="985.80" stroke="#8c8c8c" stroke-width="2.4"/>
<line x1="1797.60" y1="966.40" x2="1797.60" y2="984.00" stroke="#8c8c8c" stroke-width="2.4"/>
<line x1="1790.10" y1="966.40" x2="1805.10" y2="966.40" stroke="#8c8c8c" stroke-width="2.4"/>
<line x1="1790.10" y1="984.00" x2="1805.10" y2="984.00" stroke="#8c8c8c" stroke-width="2.4"/>
<line x1="1817.70" y1="965.00" x2="1817.70" y2="980.20" stroke="#8c8c8c" stroke-width="2.4"/>
<line x1="1810.20" y1="965.00" x2="1825.20" y2="965.00" stroke="#8c8c8c" stroke-width="2.4"/>
<line x1="1810.20" y1="980.20" x2="1825.20" y2="980.20" stroke="#8c8c8c" stroke-width="2.4"/>
<line x1="1838.00" y1="963.20" x2="1838.00" y2="978.30" stroke="#8c8c8c" stroke-width="2.4"/>
<line x1="1830.50" y1="963.20" x2="1845.50" y2="963.20" stroke="#8c8c8c" stroke-width="2.4"/>
<line x1="1830.50" y1="978.30" x2="1845.50" y2="978.30" stroke="#8c8c8c" stroke-width="2.4"/>
<line x1="1858.40" y1="964.40" x2="1858.40" y2="979.00" stroke="#8c8c8c" stroke-width="2.4"/>
<line x1="1850.90" y1="964.40" x2="1865.90" y2="964.40" stroke="#8c8c8c" stroke-width="2.4"/>
<line x1="1850.90" y1="979.00" x2="1865.90" y2="979.00" stroke="#8c8c8c" stroke-width="2.4"/>
<line x1="1878.60" y1="969.60" x2="1878.60" y2="986.50" stroke="#8c8c8c" stroke-width="2.4"/>
<line x1="1871.10" y1="969.60" x2="1886.10" y2="969.60" stroke="#8c8c8c" stroke-width="2.4"/>
<line x1="1871.10" y1="986.50" x2="1886.10" y2="986.50" stroke="#8c8c8c" stroke-width="2.4"/>
<line x1="1899.00" y1="974.00" x2="1899.00" y2="994.00" stroke="#8c8c8c" stroke-width="2.4"/>
<line x1="1891.50" y1="974.00" x2="1906.50" y2="974.00" stroke="#8c8c8c" stroke-width="2.4"/>
<line x1="1891.50" y1="994.00" x2="1906.50" y2="994.00" stroke="#8c8c8c" stroke-width="2.4"/>
<line x1="1918.40" y1="984.00" x2="1918.40" y2="1005.00" stroke="#8c8c8c" stroke-width="2.4"/>
<line x1="1910.90" y1="984.00" x2="1925.90" y2="984.00" stroke="#8c8c8c" stroke-width="2.4"/>
<line x1="1910.90" y1="1005.00" x2="1925.90" y2="1005.00" stroke="#8c8c8c" stroke-width="2.4"/>
</g>
<polygon points="1513.70,864.60 1526.30,864.60 1520.00,876.20" fill="#8c8c8c" opacity="0.93"/>
<polygon points="1523.10,919.70 1535.70,919.70 1529.40,931.30" fill="#8c8c8c" opacity="0.93"/>
<polygon points="1532.50,934.70 1545.10,934.70 1538.80,946.30" fill="#8c8c8c" opacity="0.93"/>
<polygon points="1542.50,760.30 1555.10,760.30 1548.80,771.90" fill="#8c8c8c" opacity="0.93"/>
<polygon points="1557.30,750.30 1569.90,750.30 1563.60,761.90" fill="#8c8c8c" opacity="0.93"/>
<polygon points="1572.60,777.20 1585.20,777.20 1578.90,788.80" fill="#8c8c8c" opacity="0.93"/>
<polygon points="1587.00,816.30 1599.60,816.30 1593.30,827.90" fill="#8c8c8c" opacity="0.93"/>
<polygon points="1602.40,843.40 1615.00,843.40 1608.70,855.00" fill="#8c8c8c" opacity="0.93"/>
<polygon points="1617.60,852.40 1630.20,852.40 1623.90,864.00" fill="#8c8c8c" opacity="0.93"/>
<polygon points="1632.40,857.80 1645.00,857.80 1638.70,869.40" fill="#8c8c8c" opacity="0.93"/>
<polygon points="1646.70,868.00 1659.30,868.00 1653.00,879.60" fill="#8c8c8c" opacity="0.93"/>
<polygon points="1661.50,871.80 1674.10,871.80 1667.80,883.40" fill="#8c8c8c" opacity="0.93"/>
<polygon points="1676.50,878.00 1689.10,878.00 1682.80,889.60" fill="#8c8c8c" opacity="0.93"/>
<polygon points="1691.20,870.50 1703.80,870.50 1697.50,882.10" fill="#8c8c8c" opacity="0.93"/>
<polygon points="1706.50,875.90 1719.10,875.90 1712.80,887.50" fill="#8c8c8c" opacity="0.93"/>
<polygon points="1721.50,871.20 1734.10,871.20 1727.80,882.80" fill="#8c8c8c" opacity="0.93"/>
<polygon points="1726.90,1001.20 1739.50,1001.20 1733.20,1012.80" fill="#8c8c8c" opacity="0.93"/>
<polygon points="1736.00,978.20 1748.60,978.20 1742.30,989.80" fill="#8c8c8c" opacity="0.93"/>
<polygon points="1751.00,973.80 1763.60,973.80 1757.30,985.40" fill="#8c8c8c" opacity="0.93"/>
<polygon points="1770.70,969.80 1783.30,969.80 1777.00,981.40" fill="#8c8c8c" opacity="0.93"/>
<polygon points="1791.30,968.80 1803.90,968.80 1797.60,980.40" fill="#8c8c8c" opacity="0.93"/>
<polygon points="1811.40,965.00 1824.00,965.00 1817.70,976.60" fill="#8c8c8c" opacity="0.93"/>
<polygon points="1831.70,963.20 1844.30,963.20 1838.00,974.80" fill="#8c8c8c" opacity="0.93"/>
<polygon points="1852.10,964.40 1864.70,964.40 1858.40,976.00" fill="#8c8c8c" opacity="0.93"/>
<polygon points="1872.30,972.30 1884.90,972.30 1878.60,983.90" fill="#8c8c8c" opacity="0.93"/>
<polygon points="1892.70,978.80 1905.30,978.80 1899.00,990.40" fill="#8c8c8c" opacity="0.93"/>
<polygon points="1912.10,987.90 1924.70,987.90 1918.40,999.50" fill="#8c8c8c" opacity="0.93"/>
<line x1="1500.45" y1="730.55" x2="1500.45" y2="1026.60" stroke="#000" stroke-width="4.4"/>
<line x1="1498.25" y1="1024.70" x2="1938.80" y2="1024.70" stroke="#000" stroke-width="3.8"/>
<line x1="1481.90" y1="732.50" x2="1500.45" y2="732.50" stroke="#000" stroke-width="4.0"/>
<text x="1474.20" y="744.70" font-size="32.5" font-weight="bold" text-anchor="end" stroke="#000" stroke-width="0.46" stroke-linejoin="round">1.5</text>
<line x1="1481.90" y1="823.85" x2="1500.45" y2="823.85" stroke="#000" stroke-width="4.0"/>
<text x="1474.20" y="836.05" font-size="32.5" font-weight="bold" text-anchor="end" stroke="#000" stroke-width="0.46" stroke-linejoin="round">1.0</text>
<line x1="1481.90" y1="915.20" x2="1500.45" y2="915.20" stroke="#000" stroke-width="4.0"/>
<text x="1474.20" y="927.40" font-size="32.5" font-weight="bold" text-anchor="end" stroke="#000" stroke-width="0.46" stroke-linejoin="round">0.5</text>
<line x1="1481.90" y1="1006.55" x2="1500.45" y2="1006.55" stroke="#000" stroke-width="4.0"/>
<text x="1474.20" y="1018.75" font-size="32.5" font-weight="bold" text-anchor="end" stroke="#000" stroke-width="0.46" stroke-linejoin="round">0.0</text>
<line x1="1490.10" y1="778.20" x2="1500.45" y2="778.20" stroke="#000" stroke-width="4.0"/>
<line x1="1490.10" y1="869.50" x2="1500.45" y2="869.50" stroke="#000" stroke-width="4.0"/>
<line x1="1490.10" y1="960.90" x2="1500.45" y2="960.90" stroke="#000" stroke-width="4.0"/>
<line x1="1520.00" y1="1024.70" x2="1520.00" y2="1043.00" stroke="#000" stroke-width="4.0"/>
<text x="1520.00" y="1080.80" font-size="32.5" font-weight="bold" text-anchor="middle" stroke="#000" stroke-width="0.46" stroke-linejoin="round">0</text>
<line x1="1539.85" y1="1024.70" x2="1539.85" y2="1034.50" stroke="#000" stroke-width="4.0"/>
<line x1="1559.70" y1="1024.70" x2="1559.70" y2="1034.50" stroke="#000" stroke-width="4.0"/>
<line x1="1579.55" y1="1024.70" x2="1579.55" y2="1034.50" stroke="#000" stroke-width="4.0"/>
<line x1="1599.40" y1="1024.70" x2="1599.40" y2="1043.00" stroke="#000" stroke-width="4.0"/>
<text x="1599.40" y="1080.80" font-size="32.5" font-weight="bold" text-anchor="middle" stroke="#000" stroke-width="0.46" stroke-linejoin="round">4</text>
<line x1="1619.25" y1="1024.70" x2="1619.25" y2="1034.50" stroke="#000" stroke-width="4.0"/>
<line x1="1639.10" y1="1024.70" x2="1639.10" y2="1034.50" stroke="#000" stroke-width="4.0"/>
<line x1="1658.95" y1="1024.70" x2="1658.95" y2="1034.50" stroke="#000" stroke-width="4.0"/>
<line x1="1678.80" y1="1024.70" x2="1678.80" y2="1043.00" stroke="#000" stroke-width="4.0"/>
<text x="1678.80" y="1080.80" font-size="32.5" font-weight="bold" text-anchor="middle" stroke="#000" stroke-width="0.46" stroke-linejoin="round">8</text>
<line x1="1698.65" y1="1024.70" x2="1698.65" y2="1034.50" stroke="#000" stroke-width="4.0"/>
<line x1="1718.50" y1="1024.70" x2="1718.50" y2="1034.50" stroke="#000" stroke-width="4.0"/>
<line x1="1738.35" y1="1024.70" x2="1738.35" y2="1034.50" stroke="#000" stroke-width="4.0"/>
<line x1="1758.20" y1="1024.70" x2="1758.20" y2="1043.00" stroke="#000" stroke-width="4.0"/>
<text x="1758.20" y="1080.80" font-size="32.5" font-weight="bold" text-anchor="middle" stroke="#000" stroke-width="0.46" stroke-linejoin="round">12</text>
<line x1="1778.05" y1="1024.70" x2="1778.05" y2="1034.50" stroke="#000" stroke-width="4.0"/>
<line x1="1797.90" y1="1024.70" x2="1797.90" y2="1034.50" stroke="#000" stroke-width="4.0"/>
<line x1="1817.75" y1="1024.70" x2="1817.75" y2="1034.50" stroke="#000" stroke-width="4.0"/>
<line x1="1837.60" y1="1024.70" x2="1837.60" y2="1043.00" stroke="#000" stroke-width="4.0"/>
<text x="1837.60" y="1080.80" font-size="32.5" font-weight="bold" text-anchor="middle" stroke="#000" stroke-width="0.46" stroke-linejoin="round">16</text>
<line x1="1857.45" y1="1024.70" x2="1857.45" y2="1034.50" stroke="#000" stroke-width="4.0"/>
<line x1="1877.30" y1="1024.70" x2="1877.30" y2="1034.50" stroke="#000" stroke-width="4.0"/>
<line x1="1897.15" y1="1024.70" x2="1897.15" y2="1034.50" stroke="#000" stroke-width="4.0"/>
<line x1="1917.00" y1="1024.70" x2="1917.00" y2="1043.00" stroke="#000" stroke-width="4.0"/>
<text x="1917.00" y="1080.80" font-size="32.5" font-weight="bold" text-anchor="middle" stroke="#000" stroke-width="0.46" stroke-linejoin="round">20</text>
<line x1="1936.85" y1="1024.70" x2="1936.85" y2="1034.50" stroke="#000" stroke-width="4.0"/>
<line x1="1526.65" y1="1024.70" x2="1526.65" y2="1034.50" stroke="#000" stroke-width="6.1"/>
<text x="1413.00" y="860.30" font-size="41" font-weight="bold" text-anchor="middle" transform="rotate(-90 1413.00 860.30)" stroke="#000" stroke-width="0.57" stroke-linejoin="round">NPQ</text>
<text x="1725.00" y="1133.00" font-size="42" font-weight="bold" text-anchor="middle" stroke="#000" stroke-width="0.59" stroke-linejoin="round">Time (min)</text>
<text x="1582.00" y="773.40" font-size="48" font-weight="bold" fill="#919191" stroke="#919191" stroke-width="0.67" stroke-linejoin="round">WT</text>
<text x="1619.00" y="833.00" font-size="48" font-weight="bold" font-style="italic" fill="#8089c4" stroke="#8089c4" stroke-width="0.67" stroke-linejoin="round">lcr1-C</text>
<text x="1565.50" y="1004.00" font-size="47" font-weight="bold" font-style="italic" fill="#f965bd" stroke="#f965bd" stroke-width="0.66" stroke-linejoin="round">lcr1</text>
<rect x="1845.00" y="775.00" width="20.60" height="113.20" fill="#969696"/>
<rect x="1845.00" y="775.00" width="20.60" height="37.40" fill="#858585"/>
<rect x="1876.00" y="872.50" width="20.80" height="15.70" fill="#f965bd"/>
<rect x="1907.20" y="813.00" width="20.60" height="75.20" fill="#8089c4"/>
<line x1="1834.70" y1="730.80" x2="1834.70" y2="889.20" stroke="#000" stroke-width="2.0"/>
<line x1="1828.20" y1="888.20" x2="1938.00" y2="888.20" stroke="#000" stroke-width="2.0"/>
<line x1="1831.00" y1="856.92" x2="1834.70" y2="856.92" stroke="#000" stroke-width="2.0"/>
<line x1="1828.20" y1="825.64" x2="1834.70" y2="825.64" stroke="#000" stroke-width="2.0"/>
<line x1="1831.00" y1="794.36" x2="1834.70" y2="794.36" stroke="#000" stroke-width="2.0"/>
<line x1="1828.20" y1="763.08" x2="1834.70" y2="763.08" stroke="#000" stroke-width="2.0"/>
<line x1="1831.00" y1="731.80" x2="1834.70" y2="731.80" stroke="#000" stroke-width="2.0"/>
<text x="1824.40" y="770.90" font-size="22" font-weight="bold" text-anchor="end" stroke="#000" stroke-width="0.3">0.8</text>
<text x="1824.40" y="833.50" font-size="22" font-weight="bold" text-anchor="end" stroke="#000" stroke-width="0.3">0.4</text>
<text x="1824.40" y="896.10" font-size="22" font-weight="bold" text-anchor="end" stroke="#000" stroke-width="0.3">0.0</text>
<line x1="1855.20" y1="888.20" x2="1855.20" y2="894.70" stroke="#000" stroke-width="2.0"/>
<line x1="1886.30" y1="888.20" x2="1886.30" y2="894.70" stroke="#000" stroke-width="2.0"/>
<line x1="1917.40" y1="888.20" x2="1917.40" y2="894.70" stroke="#000" stroke-width="2.0"/>
<text x="1786.00" y="822.50" font-size="25.5" font-weight="bold" text-anchor="middle" transform="rotate(-90 1786.00 822.50)" stroke="#000" stroke-width="0.3">qE</text>
<line x1="1855.20" y1="769.00" x2="1855.20" y2="781.00" stroke="#000" stroke-width="1.5"/>
<line x1="1850.70" y1="769.00" x2="1859.70" y2="769.00" stroke="#000" stroke-width="1.5"/>
<line x1="1850.70" y1="781.00" x2="1859.70" y2="781.00" stroke="#000" stroke-width="1.5"/>
<line x1="1917.40" y1="811.00" x2="1917.40" y2="821.00" stroke="#000" stroke-width="1.5"/>
<line x1="1912.90" y1="811.00" x2="1921.90" y2="811.00" stroke="#000" stroke-width="1.5"/>
<line x1="1912.90" y1="821.00" x2="1921.90" y2="821.00" stroke="#000" stroke-width="1.5"/>
<circle cx="1854.50" cy="768.50" r="4.10" fill="#000"/>
<circle cx="1848.50" cy="780.50" r="4.10" fill="#000"/>
<circle cx="1861.00" cy="777.50" r="4.10" fill="#000"/>
<circle cx="1878.50" cy="873.50" r="4.10" fill="#000"/>
<circle cx="1885.50" cy="869.50" r="4.10" fill="#000"/>
<circle cx="1892.30" cy="873.50" r="4.10" fill="#000"/>
<circle cx="1910.50" cy="812.50" r="4.10" fill="#000"/>
<circle cx="1923.00" cy="815.00" r="4.10" fill="#000"/>
<circle cx="1917.00" cy="823.00" r="4.10" fill="#000"/>
<line x1="1857.17" y1="759.00" x2="1878.23" y2="759.00" stroke="#000" stroke-width="1.7" stroke-linecap="round"/>
<text x="1867.80" y="761.10" font-size="29.5" font-weight="bold" text-anchor="middle">****</text>
<line x1="1897.97" y1="774.30" x2="1919.23" y2="774.30" stroke="#000" stroke-width="1.7" stroke-linecap="round"/>
<text x="1908.80" y="776.40" font-size="29.5" font-weight="bold" text-anchor="middle">****</text>
<text x="1834.90" y="939.40" font-size="24.3" font-weight="bold" transform="rotate(-46 1834.90 939.40)" stroke="#000" stroke-width="0.35">WT</text>
<text x="1863.00" y="942.70" font-size="23.6" font-weight="bold" font-style="italic" transform="rotate(-48 1863.00 942.70)" stroke="#000" stroke-width="0.35">lcr1</text>
<text x="1877.00" y="960.90" font-size="24.2" font-weight="bold" font-style="italic" transform="rotate(-47 1877.00 960.90)" stroke="#000" stroke-width="0.35">lcr1-C</text>
</svg>
</body>
</html>
